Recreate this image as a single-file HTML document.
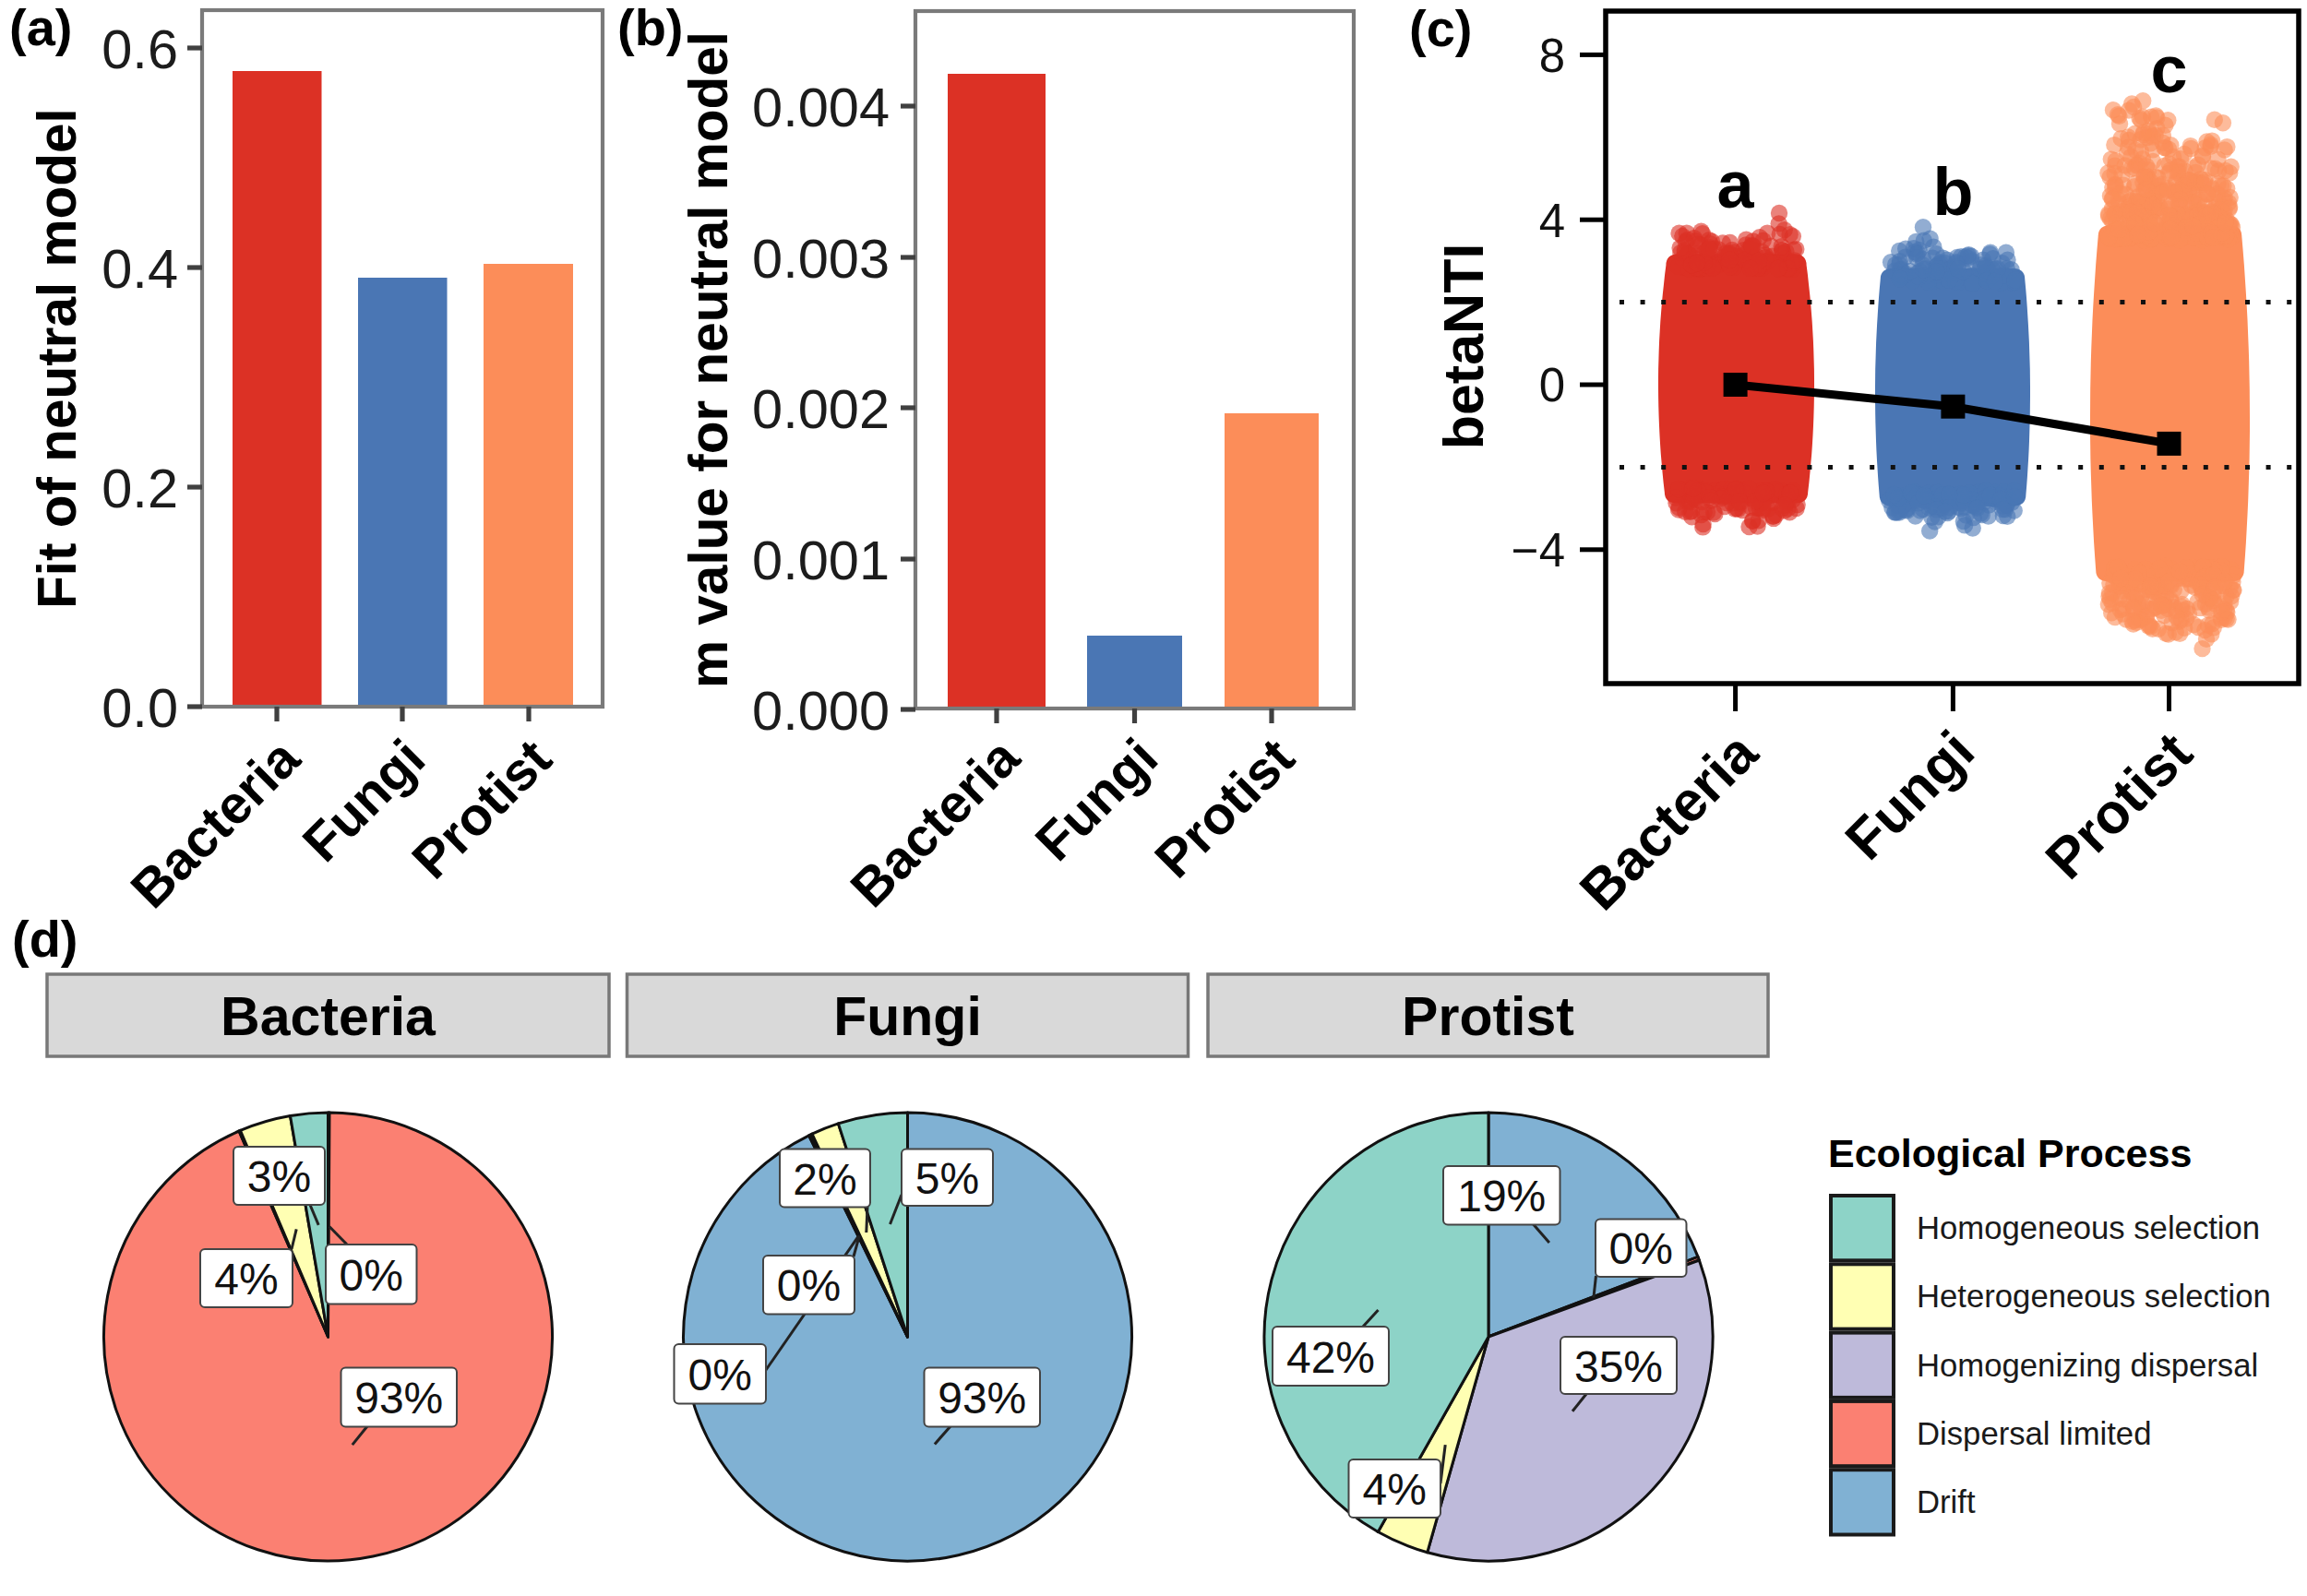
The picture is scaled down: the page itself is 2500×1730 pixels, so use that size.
<!DOCTYPE html>
<html lang="en"><head><meta charset="utf-8"><title>Figure</title>
<style>
html,body{margin:0;padding:0;background:#fff;}
body{width:2500px;height:1730px;overflow:hidden;}
svg{display:block;font-family:"Liberation Sans", Arial, Helvetica, sans-serif;}
.b{font-weight:bold;}
.tk{font-size:59.5px;fill:#1c1c1c;}
.tkc{font-size:51px;fill:#111;}
.lab{font-size:48px;fill:#111;}
.leg{font-size:34.7px;fill:#1a1a1a;}
</style></head><body>
<svg width="2500" height="1730" viewBox="0 0 2500 1730">
<rect width="2500" height="1730" fill="#fff"/>

<g>
<rect x="252" y="77" width="96.5" height="689" fill="#DC3125"/>
<rect x="388" y="301" width="96.5" height="465" fill="#4A76B4"/>
<rect x="524" y="286" width="97" height="480" fill="#FC8D59"/>
<rect x="219" y="11" width="434" height="755" fill="none" stroke="#7a7a7a" stroke-width="4.2"/>
<line x1="203" y1="52" x2="219" y2="52" stroke="#404040" stroke-width="5.2"/>
<text class="tk" x="193" y="73.5" text-anchor="end">0.6</text>
<line x1="203" y1="290" x2="219" y2="290" stroke="#404040" stroke-width="5.2"/>
<text class="tk" x="193" y="311.5" text-anchor="end">0.4</text>
<line x1="203" y1="528" x2="219" y2="528" stroke="#404040" stroke-width="5.2"/>
<text class="tk" x="193" y="549.5" text-anchor="end">0.2</text>
<line x1="203" y1="766" x2="219" y2="766" stroke="#404040" stroke-width="5.2"/>
<text class="tk" x="193" y="787.5" text-anchor="end">0.0</text>
<line x1="300" y1="766" x2="300" y2="782" stroke="#404040" stroke-width="5.2"/>
<text class="b" font-size="58" fill="#000" text-anchor="end" transform="translate(328,826) rotate(-45)">Bacteria</text>
<line x1="436" y1="766" x2="436" y2="782" stroke="#404040" stroke-width="5.2"/>
<text class="b" font-size="58" fill="#000" text-anchor="end" transform="translate(464,826) rotate(-45)">Fungi</text>
<line x1="573" y1="766" x2="573" y2="782" stroke="#404040" stroke-width="5.2"/>
<text class="b" font-size="58" fill="#000" text-anchor="end" transform="translate(601,826) rotate(-45)">Protist</text>
<text class="b" font-size="58.5" fill="#000" text-anchor="middle" transform="translate(82,388.5) rotate(-90)">Fit of neutral model</text>
<text class="b" font-size="56" fill="#000" x="10" y="49">(a)</text>
</g>
<g>
<rect x="1027" y="80" width="106" height="688" fill="#DC3125"/>
<rect x="1178" y="689" width="103" height="79" fill="#4A76B4"/>
<rect x="1327" y="448" width="102" height="320" fill="#FC8D59"/>
<rect x="992" y="12" width="475" height="756" fill="none" stroke="#7a7a7a" stroke-width="4.2"/>
<line x1="976" y1="115" x2="992" y2="115" stroke="#404040" stroke-width="5.2"/>
<text class="tk" x="964" y="136.5" text-anchor="end">0.004</text>
<line x1="976" y1="279" x2="992" y2="279" stroke="#404040" stroke-width="5.2"/>
<text class="tk" x="964" y="300.5" text-anchor="end">0.003</text>
<line x1="976" y1="442" x2="992" y2="442" stroke="#404040" stroke-width="5.2"/>
<text class="tk" x="964" y="463.5" text-anchor="end">0.002</text>
<line x1="976" y1="606" x2="992" y2="606" stroke="#404040" stroke-width="5.2"/>
<text class="tk" x="964" y="627.5" text-anchor="end">0.001</text>
<line x1="976" y1="769" x2="992" y2="769" stroke="#404040" stroke-width="5.2"/>
<text class="tk" x="964" y="790.5" text-anchor="end">0.000</text>
<line x1="1080" y1="768" x2="1080" y2="784" stroke="#404040" stroke-width="5.2"/>
<text class="b" font-size="58" fill="#000" text-anchor="end" transform="translate(1108,825) rotate(-45)">Bacteria</text>
<line x1="1229.5" y1="768" x2="1229.5" y2="784" stroke="#404040" stroke-width="5.2"/>
<text class="b" font-size="58" fill="#000" text-anchor="end" transform="translate(1258,825) rotate(-45)">Fungi</text>
<line x1="1378" y1="768" x2="1378" y2="784" stroke="#404040" stroke-width="5.2"/>
<text class="b" font-size="58" fill="#000" text-anchor="end" transform="translate(1406,825) rotate(-45)">Protist</text>
<text class="b" font-size="58.5" fill="#000" text-anchor="middle" transform="translate(788,390.0) rotate(-90)">m value for neutral model</text>
<text class="b" font-size="56" fill="#000" x="669" y="49">(b)</text>
</g>
<defs><clipPath id="cpc"><rect x="1740" y="12" width="751" height="729"/></clipPath></defs>
<g>
<rect x="1740" y="12" width="751" height="729" fill="#fff"/>
<g clip-path="url(#cpc)">
<g fill="#DC3125">
<path d="M1803.8,533.2 L1802.6,523.0 L1801.6,512.7 L1800.7,502.5 L1799.8,492.2 L1799.1,482.0 L1798.5,471.8 L1798.0,461.5 L1797.6,451.3 L1797.3,441.0 L1797.1,430.8 L1797.0,420.5 L1797.0,410.3 L1797.1,400.1 L1797.4,389.8 L1797.7,379.6 L1798.1,369.3 L1798.7,359.1 L1799.3,348.8 L1800.1,338.6 L1800.9,328.3 L1801.9,318.1 L1803.0,307.9 L1804.1,297.6 L1805.4,287.4 Q1805.4,275.2 1819.4,275.2 L1943.6,275.2 Q1957.6,275.2 1957.6,287.4 L1957.6,287.4 L1958.9,297.6 L1960.0,307.9 L1961.1,318.1 L1962.1,328.3 L1962.9,338.6 L1963.7,348.8 L1964.3,359.1 L1964.9,369.3 L1965.3,379.6 L1965.6,389.8 L1965.9,400.1 L1966.0,410.3 L1966.0,420.5 L1965.9,430.8 L1965.7,441.0 L1965.4,451.3 L1965.0,461.5 L1964.5,471.8 L1963.9,482.0 L1963.2,492.2 L1962.3,502.5 L1961.4,512.7 L1960.4,523.0 L1959.2,533.2 Q1959.2,545.4 1945.2,545.4 L1817.8,545.4 Q1803.8,545.4 1803.8,533.2 Z"/>
<g fill-opacity="0.6">
<circle cx="1877.0" cy="271.0" r="9.2"/>
<circle cx="1882.5" cy="278.2" r="9.2"/>
<circle cx="1883.1" cy="283.5" r="9.2"/>
<circle cx="1898.8" cy="288.9" r="9.2"/>
<circle cx="1855.6" cy="281.1" r="9.2"/>
<circle cx="1827.8" cy="277.7" r="9.2"/>
<circle cx="1823.3" cy="256.0" r="9.2"/>
<circle cx="1942.8" cy="256.3" r="9.2"/>
<circle cx="1896.8" cy="283.8" r="9.2"/>
<circle cx="1837.6" cy="261.3" r="9.2"/>
<circle cx="1822.8" cy="289.0" r="9.2"/>
<circle cx="1840.1" cy="291.5" r="9.2"/>
<circle cx="1876.7" cy="285.7" r="9.2"/>
<circle cx="1873.7" cy="275.2" r="9.2"/>
<circle cx="1899.6" cy="266.5" r="9.2"/>
<circle cx="1881.5" cy="277.4" r="9.2"/>
<circle cx="1852.8" cy="268.2" r="9.2"/>
<circle cx="1909.3" cy="290.5" r="9.2"/>
<circle cx="1856.9" cy="289.2" r="9.2"/>
<circle cx="1825.7" cy="271.3" r="9.2"/>
<circle cx="1915.2" cy="252.6" r="9.2"/>
<circle cx="1866.9" cy="263.4" r="9.2"/>
<circle cx="1942.7" cy="291.4" r="9.2"/>
<circle cx="1842.7" cy="291.2" r="9.2"/>
<circle cx="1868.0" cy="278.7" r="9.2"/>
<circle cx="1826.8" cy="262.0" r="9.2"/>
<circle cx="1852.1" cy="260.3" r="9.2"/>
<circle cx="1828.7" cy="259.8" r="9.2"/>
<circle cx="1830.4" cy="291.6" r="9.2"/>
<circle cx="1823.6" cy="280.3" r="9.2"/>
<circle cx="1920.5" cy="277.8" r="9.2"/>
<circle cx="1874.7" cy="263.0" r="9.2"/>
<circle cx="1840.2" cy="290.3" r="9.2"/>
<circle cx="1900.4" cy="278.7" r="9.2"/>
<circle cx="1831.3" cy="276.6" r="9.2"/>
<circle cx="1851.1" cy="283.6" r="9.2"/>
<circle cx="1943.9" cy="284.8" r="9.2"/>
<circle cx="1931.5" cy="271.7" r="9.2"/>
<circle cx="1844.9" cy="253.2" r="9.2"/>
<circle cx="1899.7" cy="261.5" r="9.2"/>
<circle cx="1829.3" cy="274.5" r="9.2"/>
<circle cx="1849.2" cy="290.7" r="9.2"/>
<circle cx="1917.5" cy="281.9" r="9.2"/>
<circle cx="1825.9" cy="273.4" r="9.2"/>
<circle cx="1827.9" cy="275.6" r="9.2"/>
<circle cx="1894.9" cy="282.6" r="9.2"/>
<circle cx="1879.4" cy="273.5" r="9.2"/>
<circle cx="1891.3" cy="281.2" r="9.2"/>
<circle cx="1836.0" cy="280.0" r="9.2"/>
<circle cx="1935.5" cy="284.0" r="9.2"/>
<circle cx="1841.0" cy="274.6" r="9.2"/>
<circle cx="1912.8" cy="276.4" r="9.2"/>
<circle cx="1941.2" cy="285.8" r="9.2"/>
<circle cx="1931.1" cy="271.0" r="9.2"/>
<circle cx="1829.7" cy="276.0" r="9.2"/>
<circle cx="1821.3" cy="273.9" r="9.2"/>
<circle cx="1908.7" cy="287.5" r="9.2"/>
<circle cx="1849.7" cy="276.8" r="9.2"/>
<circle cx="1855.0" cy="261.7" r="9.2"/>
<circle cx="1838.2" cy="290.1" r="9.2"/>
<circle cx="1845.6" cy="282.6" r="9.2"/>
<circle cx="1889.2" cy="271.1" r="9.2"/>
<circle cx="1853.2" cy="264.2" r="9.2"/>
<circle cx="1937.2" cy="290.5" r="9.2"/>
<circle cx="1850.8" cy="287.5" r="9.2"/>
<circle cx="1874.4" cy="277.4" r="9.2"/>
<circle cx="1864.1" cy="286.1" r="9.2"/>
<circle cx="1890.9" cy="275.8" r="9.2"/>
<circle cx="1932.5" cy="274.4" r="9.2"/>
<circle cx="1943.9" cy="270.7" r="9.2"/>
<circle cx="1892.3" cy="259.8" r="9.2"/>
<circle cx="1833.7" cy="287.2" r="9.2"/>
<circle cx="1936.3" cy="290.8" r="9.2"/>
<circle cx="1908.2" cy="286.8" r="9.2"/>
<circle cx="1899.7" cy="290.6" r="9.2"/>
<circle cx="1879.1" cy="289.2" r="9.2"/>
<circle cx="1946.3" cy="270.1" r="9.2"/>
<circle cx="1827.8" cy="252.6" r="9.2"/>
<circle cx="1934.2" cy="280.2" r="9.2"/>
<circle cx="1912.7" cy="279.1" r="9.2"/>
<circle cx="1933.7" cy="249.3" r="9.2"/>
<circle cx="1862.3" cy="270.5" r="9.2"/>
<circle cx="1927.7" cy="242.4" r="9.2"/>
<circle cx="1870.6" cy="279.3" r="9.2"/>
<circle cx="1897.6" cy="267.4" r="9.2"/>
<circle cx="1895.6" cy="269.5" r="9.2"/>
<circle cx="1928.0" cy="231.0" r="9.2"/>
<circle cx="1910.7" cy="260.7" r="9.2"/>
<circle cx="1891.9" cy="265.5" r="9.2"/>
<circle cx="1873.6" cy="286.3" r="9.2"/>
<circle cx="1914.6" cy="282.9" r="9.2"/>
<circle cx="1820.6" cy="268.8" r="9.2"/>
<circle cx="1846.3" cy="274.8" r="9.2"/>
<circle cx="1906.8" cy="257.3" r="9.2"/>
<circle cx="1937.7" cy="291.2" r="9.2"/>
<circle cx="1849.8" cy="270.7" r="9.2"/>
<circle cx="1905.3" cy="290.3" r="9.2"/>
<circle cx="1843.2" cy="265.5" r="9.2"/>
<circle cx="1873.9" cy="274.5" r="9.2"/>
<circle cx="1903.3" cy="277.8" r="9.2"/>
<circle cx="1843.5" cy="250.7" r="9.2"/>
<circle cx="1935.4" cy="272.8" r="9.2"/>
<circle cx="1930.6" cy="267.1" r="9.2"/>
<circle cx="1857.7" cy="269.9" r="9.2"/>
<circle cx="1928.1" cy="290.8" r="9.2"/>
<circle cx="1909.0" cy="272.7" r="9.2"/>
<circle cx="1837.6" cy="285.6" r="9.2"/>
<circle cx="1874.9" cy="289.1" r="9.2"/>
<circle cx="1870.3" cy="274.7" r="9.2"/>
<circle cx="1897.8" cy="270.1" r="9.2"/>
<circle cx="1926.8" cy="291.0" r="9.2"/>
<circle cx="1945.1" cy="282.4" r="9.2"/>
<circle cx="1819.1" cy="288.9" r="9.2"/>
<circle cx="1928.7" cy="253.9" r="9.2"/>
<circle cx="1890.8" cy="281.7" r="9.2"/>
<circle cx="1856.0" cy="290.6" r="9.2"/>
<circle cx="1833.1" cy="287.1" r="9.2"/>
<circle cx="1846.7" cy="284.6" r="9.2"/>
<circle cx="1835.7" cy="258.1" r="9.2"/>
<circle cx="1874.4" cy="281.6" r="9.2"/>
<circle cx="1898.3" cy="266.3" r="9.2"/>
<circle cx="1939.6" cy="254.3" r="9.2"/>
<circle cx="1905.9" cy="282.9" r="9.2"/>
<circle cx="1840.1" cy="264.8" r="9.2"/>
<circle cx="1819.6" cy="252.8" r="9.2"/>
<circle cx="1839.0" cy="285.0" r="9.2"/>
<circle cx="1852.0" cy="269.9" r="9.2"/>
<circle cx="1896.8" cy="290.9" r="9.2"/>
<circle cx="1919.2" cy="266.8" r="9.2"/>
<circle cx="1910.7" cy="551.5" r="9.2"/>
<circle cx="1833.2" cy="554.0" r="9.2"/>
<circle cx="1936.9" cy="536.3" r="9.2"/>
<circle cx="1921.0" cy="544.9" r="9.2"/>
<circle cx="1939.4" cy="555.3" r="9.2"/>
<circle cx="1841.5" cy="534.9" r="9.2"/>
<circle cx="1911.3" cy="539.9" r="9.2"/>
<circle cx="1910.0" cy="553.2" r="9.2"/>
<circle cx="1845.3" cy="571.4" r="9.2"/>
<circle cx="1886.5" cy="532.9" r="9.2"/>
<circle cx="1936.0" cy="544.7" r="9.2"/>
<circle cx="1929.9" cy="533.3" r="9.2"/>
<circle cx="1873.5" cy="535.1" r="9.2"/>
<circle cx="1888.4" cy="531.2" r="9.2"/>
<circle cx="1819.5" cy="550.3" r="9.2"/>
<circle cx="1921.4" cy="559.7" r="9.2"/>
<circle cx="1837.8" cy="541.9" r="9.2"/>
<circle cx="1859.0" cy="531.2" r="9.2"/>
<circle cx="1834.2" cy="538.8" r="9.2"/>
<circle cx="1883.7" cy="534.7" r="9.2"/>
<circle cx="1905.7" cy="564.2" r="9.2"/>
<circle cx="1825.0" cy="530.9" r="9.2"/>
<circle cx="1844.4" cy="544.1" r="9.2"/>
<circle cx="1912.7" cy="531.3" r="9.2"/>
<circle cx="1899.3" cy="564.5" r="9.2"/>
<circle cx="1889.6" cy="533.9" r="9.2"/>
<circle cx="1857.0" cy="555.4" r="9.2"/>
<circle cx="1933.9" cy="553.4" r="9.2"/>
<circle cx="1843.7" cy="558.0" r="9.2"/>
<circle cx="1891.4" cy="535.8" r="9.2"/>
<circle cx="1881.9" cy="550.9" r="9.2"/>
<circle cx="1883.7" cy="537.4" r="9.2"/>
<circle cx="1868.1" cy="536.4" r="9.2"/>
<circle cx="1880.3" cy="551.7" r="9.2"/>
<circle cx="1906.6" cy="550.1" r="9.2"/>
<circle cx="1869.9" cy="538.1" r="9.2"/>
<circle cx="1942.6" cy="541.9" r="9.2"/>
<circle cx="1877.9" cy="535.6" r="9.2"/>
<circle cx="1833.4" cy="560.3" r="9.2"/>
<circle cx="1935.0" cy="542.7" r="9.2"/>
<circle cx="1878.3" cy="533.8" r="9.2"/>
<circle cx="1897.3" cy="539.9" r="9.2"/>
<circle cx="1937.4" cy="551.2" r="9.2"/>
<circle cx="1819.0" cy="552.5" r="9.2"/>
<circle cx="1839.9" cy="532.8" r="9.2"/>
<circle cx="1858.4" cy="557.1" r="9.2"/>
<circle cx="1861.9" cy="535.2" r="9.2"/>
<circle cx="1912.8" cy="534.8" r="9.2"/>
<circle cx="1831.2" cy="543.0" r="9.2"/>
<circle cx="1840.1" cy="529.7" r="9.2"/>
<circle cx="1885.5" cy="545.6" r="9.2"/>
<circle cx="1869.8" cy="535.8" r="9.2"/>
<circle cx="1885.5" cy="535.6" r="9.2"/>
<circle cx="1899.1" cy="539.5" r="9.2"/>
<circle cx="1899.2" cy="564.8" r="9.2"/>
<circle cx="1896.6" cy="535.5" r="9.2"/>
<circle cx="1930.1" cy="532.1" r="9.2"/>
<circle cx="1921.6" cy="559.4" r="9.2"/>
<circle cx="1936.0" cy="535.3" r="9.2"/>
<circle cx="1937.8" cy="543.7" r="9.2"/>
<circle cx="1845.7" cy="568.0" r="9.2"/>
<circle cx="1831.4" cy="529.2" r="9.2"/>
<circle cx="1845.9" cy="530.9" r="9.2"/>
<circle cx="1827.7" cy="543.1" r="9.2"/>
<circle cx="1924.6" cy="558.0" r="9.2"/>
<circle cx="1831.7" cy="544.4" r="9.2"/>
<circle cx="1868.2" cy="530.2" r="9.2"/>
<circle cx="1840.8" cy="532.0" r="9.2"/>
<circle cx="1904.5" cy="570.6" r="9.2"/>
<circle cx="1831.3" cy="554.8" r="9.2"/>
<circle cx="1882.3" cy="529.9" r="9.2"/>
<circle cx="1905.9" cy="550.9" r="9.2"/>
<circle cx="1839.5" cy="536.8" r="9.2"/>
<circle cx="1818.5" cy="532.6" r="9.2"/>
<circle cx="1888.3" cy="553.0" r="9.2"/>
<circle cx="1833.3" cy="531.0" r="9.2"/>
<circle cx="1839.1" cy="539.0" r="9.2"/>
<circle cx="1939.4" cy="534.3" r="9.2"/>
<circle cx="1943.0" cy="532.5" r="9.2"/>
<circle cx="1876.3" cy="530.3" r="9.2"/>
<circle cx="1877.1" cy="545.4" r="9.2"/>
<circle cx="1883.5" cy="551.8" r="9.2"/>
<circle cx="1816.1" cy="539.6" r="9.2"/>
<circle cx="1908.7" cy="535.4" r="9.2"/>
<circle cx="1875.3" cy="538.6" r="9.2"/>
<circle cx="1913.7" cy="539.0" r="9.2"/>
<circle cx="1836.2" cy="535.7" r="9.2"/>
<circle cx="1922.6" cy="532.6" r="9.2"/>
<circle cx="1908.7" cy="545.7" r="9.2"/>
<circle cx="1868.9" cy="549.1" r="9.2"/>
<circle cx="1923.2" cy="530.2" r="9.2"/>
<circle cx="1850.0" cy="555.1" r="9.2"/>
<circle cx="1918.4" cy="545.2" r="9.2"/>
<circle cx="1922.0" cy="561.9" r="9.2"/>
<circle cx="1931.4" cy="551.1" r="9.2"/>
<circle cx="1908.0" cy="532.2" r="9.2"/>
<circle cx="1911.1" cy="544.3" r="9.2"/>
<circle cx="1877.3" cy="536.1" r="9.2"/>
<circle cx="1816.5" cy="545.3" r="9.2"/>
<circle cx="1897.8" cy="549.9" r="9.2"/>
<circle cx="1846.6" cy="554.9" r="9.2"/>
<circle cx="1859.7" cy="538.2" r="9.2"/>
<circle cx="1902.5" cy="549.7" r="9.2"/>
<circle cx="1866.6" cy="538.6" r="9.2"/>
<circle cx="1947.7" cy="547.0" r="9.2"/>
<circle cx="1915.9" cy="551.5" r="9.2"/>
<circle cx="1914.0" cy="532.5" r="9.2"/>
<circle cx="1848.4" cy="533.7" r="9.2"/>
<circle cx="1840.0" cy="532.3" r="9.2"/>
<circle cx="1864.8" cy="540.4" r="9.2"/>
<circle cx="1936.2" cy="537.0" r="9.2"/>
<circle cx="1890.8" cy="531.2" r="9.2"/>
<circle cx="1946.6" cy="550.9" r="9.2"/>
<circle cx="1826.2" cy="554.8" r="9.2"/>
<circle cx="1894.9" cy="529.1" r="9.2"/>
<circle cx="1939.8" cy="534.4" r="9.2"/>
<circle cx="1835.9" cy="540.0" r="9.2"/>
<circle cx="1880.9" cy="530.8" r="9.2"/>
<circle cx="1895.5" cy="571.0" r="9.2"/>
<circle cx="1871.0" cy="545.0" r="9.2"/>
<circle cx="1885.1" cy="543.4" r="9.2"/>
<circle cx="1852.7" cy="539.1" r="9.2"/>
<circle cx="1902.2" cy="543.0" r="9.2"/>
<circle cx="1910.9" cy="534.5" r="9.2"/>
<circle cx="1854.3" cy="542.8" r="9.2"/>
<circle cx="1819.0" cy="530.0" r="9.2"/>
<circle cx="1834.5" cy="529.3" r="9.2"/>
<circle cx="1934.1" cy="547.4" r="9.2"/>
</g></g>
<g fill="#4A76B4">
<path d="M2036.6,536.3 L2035.8,526.6 L2035.1,516.9 L2034.5,507.2 L2033.9,497.5 L2033.4,487.7 L2033.0,478.0 L2032.7,468.3 L2032.4,458.6 L2032.2,448.8 L2032.1,439.1 L2032.0,429.4 L2032.0,419.7 L2032.1,410.0 L2032.2,400.2 L2032.5,390.5 L2032.8,380.8 L2033.1,371.1 L2033.6,361.3 L2034.1,351.6 L2034.7,341.9 L2035.3,332.2 L2036.0,322.5 L2036.8,312.7 L2037.7,303.0 Q2037.7,290.8 2051.7,290.8 L2180.3,290.8 Q2194.3,290.8 2194.3,303.0 L2194.3,303.0 L2195.2,312.7 L2196.0,322.5 L2196.7,332.2 L2197.3,341.9 L2197.9,351.6 L2198.4,361.3 L2198.9,371.1 L2199.2,380.8 L2199.5,390.5 L2199.8,400.2 L2199.9,410.0 L2200.0,419.7 L2200.0,429.4 L2199.9,439.1 L2199.8,448.8 L2199.6,458.6 L2199.3,468.3 L2199.0,478.0 L2198.6,487.7 L2198.1,497.5 L2197.5,507.2 L2196.9,516.9 L2196.2,526.6 L2195.4,536.3 Q2195.4,548.5 2181.4,548.5 L2050.6,548.5 Q2036.6,548.5 2036.6,536.3 Z"/>
<g fill-opacity="0.6">
<circle cx="2175.5" cy="281.7" r="9.2"/>
<circle cx="2058.8" cy="283.1" r="9.2"/>
<circle cx="2113.0" cy="291.1" r="9.2"/>
<circle cx="2181.3" cy="306.2" r="9.2"/>
<circle cx="2173.9" cy="273.8" r="9.2"/>
<circle cx="2158.9" cy="292.3" r="9.2"/>
<circle cx="2129.8" cy="278.4" r="9.2"/>
<circle cx="2110.1" cy="281.8" r="9.2"/>
<circle cx="2076.7" cy="275.3" r="9.2"/>
<circle cx="2064.8" cy="296.6" r="9.2"/>
<circle cx="2108.3" cy="292.4" r="9.2"/>
<circle cx="2084.2" cy="280.9" r="9.2"/>
<circle cx="2120.1" cy="284.2" r="9.2"/>
<circle cx="2080.4" cy="294.3" r="9.2"/>
<circle cx="2065.2" cy="269.6" r="9.2"/>
<circle cx="2132.6" cy="277.2" r="9.2"/>
<circle cx="2096.7" cy="301.8" r="9.2"/>
<circle cx="2075.0" cy="273.1" r="9.2"/>
<circle cx="2084.0" cy="246.3" r="9.2"/>
<circle cx="2167.9" cy="299.7" r="9.2"/>
<circle cx="2054.0" cy="287.0" r="9.2"/>
<circle cx="2105.8" cy="299.3" r="9.2"/>
<circle cx="2132.5" cy="279.8" r="9.2"/>
<circle cx="2058.4" cy="286.7" r="9.2"/>
<circle cx="2060.0" cy="291.8" r="9.2"/>
<circle cx="2133.4" cy="276.1" r="9.2"/>
<circle cx="2098.9" cy="288.6" r="9.2"/>
<circle cx="2094.5" cy="304.9" r="9.2"/>
<circle cx="2149.6" cy="301.7" r="9.2"/>
<circle cx="2064.0" cy="298.2" r="9.2"/>
<circle cx="2156.9" cy="273.7" r="9.2"/>
<circle cx="2078.0" cy="274.2" r="9.2"/>
<circle cx="2105.6" cy="304.9" r="9.2"/>
<circle cx="2136.6" cy="283.0" r="9.2"/>
<circle cx="2122.7" cy="305.8" r="9.2"/>
<circle cx="2148.9" cy="281.8" r="9.2"/>
<circle cx="2098.2" cy="293.5" r="9.2"/>
<circle cx="2060.8" cy="299.6" r="9.2"/>
<circle cx="2058.9" cy="299.6" r="9.2"/>
<circle cx="2088.3" cy="303.5" r="9.2"/>
<circle cx="2153.3" cy="290.4" r="9.2"/>
<circle cx="2138.2" cy="298.7" r="9.2"/>
<circle cx="2059.2" cy="292.7" r="9.2"/>
<circle cx="2086.6" cy="291.2" r="9.2"/>
<circle cx="2146.4" cy="287.1" r="9.2"/>
<circle cx="2098.3" cy="275.2" r="9.2"/>
<circle cx="2125.2" cy="278.2" r="9.2"/>
<circle cx="2107.7" cy="284.9" r="9.2"/>
<circle cx="2157.5" cy="299.3" r="9.2"/>
<circle cx="2102.5" cy="284.7" r="9.2"/>
<circle cx="2174.8" cy="291.0" r="9.2"/>
<circle cx="2097.2" cy="294.6" r="9.2"/>
<circle cx="2097.8" cy="289.3" r="9.2"/>
<circle cx="2100.9" cy="286.4" r="9.2"/>
<circle cx="2076.3" cy="261.9" r="9.2"/>
<circle cx="2121.5" cy="288.2" r="9.2"/>
<circle cx="2161.6" cy="291.5" r="9.2"/>
<circle cx="2151.5" cy="300.8" r="9.2"/>
<circle cx="2168.6" cy="306.3" r="9.2"/>
<circle cx="2118.1" cy="301.7" r="9.2"/>
<circle cx="2136.1" cy="277.8" r="9.2"/>
<circle cx="2156.4" cy="275.4" r="9.2"/>
<circle cx="2155.1" cy="293.8" r="9.2"/>
<circle cx="2169.6" cy="285.2" r="9.2"/>
<circle cx="2059.3" cy="297.2" r="9.2"/>
<circle cx="2149.5" cy="296.0" r="9.2"/>
<circle cx="2136.6" cy="306.9" r="9.2"/>
<circle cx="2151.8" cy="287.9" r="9.2"/>
<circle cx="2119.0" cy="304.9" r="9.2"/>
<circle cx="2094.4" cy="279.8" r="9.2"/>
<circle cx="2179.5" cy="292.3" r="9.2"/>
<circle cx="2121.0" cy="278.9" r="9.2"/>
<circle cx="2145.9" cy="291.5" r="9.2"/>
<circle cx="2159.6" cy="280.3" r="9.2"/>
<circle cx="2119.2" cy="295.1" r="9.2"/>
<circle cx="2105.4" cy="279.8" r="9.2"/>
<circle cx="2099.0" cy="298.2" r="9.2"/>
<circle cx="2105.8" cy="291.2" r="9.2"/>
<circle cx="2087.6" cy="298.0" r="9.2"/>
<circle cx="2089.6" cy="305.7" r="9.2"/>
<circle cx="2064.7" cy="278.8" r="9.2"/>
<circle cx="2073.8" cy="269.1" r="9.2"/>
<circle cx="2058.2" cy="272.0" r="9.2"/>
<circle cx="2171.9" cy="298.1" r="9.2"/>
<circle cx="2053.0" cy="293.8" r="9.2"/>
<circle cx="2077.5" cy="296.3" r="9.2"/>
<circle cx="2079.8" cy="299.9" r="9.2"/>
<circle cx="2079.6" cy="271.0" r="9.2"/>
<circle cx="2072.6" cy="304.2" r="9.2"/>
<circle cx="2150.8" cy="290.8" r="9.2"/>
<circle cx="2091.6" cy="258.7" r="9.2"/>
<circle cx="2113.2" cy="292.2" r="9.2"/>
<circle cx="2084.8" cy="260.8" r="9.2"/>
<circle cx="2095.3" cy="267.6" r="9.2"/>
<circle cx="2077.8" cy="299.0" r="9.2"/>
<circle cx="2100.4" cy="291.3" r="9.2"/>
<circle cx="2119.7" cy="285.4" r="9.2"/>
<circle cx="2183.6" cy="305.3" r="9.2"/>
<circle cx="2137.8" cy="307.2" r="9.2"/>
<circle cx="2112.2" cy="303.4" r="9.2"/>
<circle cx="2098.5" cy="294.8" r="9.2"/>
<circle cx="2069.4" cy="294.0" r="9.2"/>
<circle cx="2083.6" cy="287.1" r="9.2"/>
<circle cx="2183.8" cy="303.5" r="9.2"/>
<circle cx="2084.3" cy="292.0" r="9.2"/>
<circle cx="2153.2" cy="304.1" r="9.2"/>
<circle cx="2049.1" cy="284.2" r="9.2"/>
<circle cx="2058.7" cy="302.0" r="9.2"/>
<circle cx="2127.8" cy="294.0" r="9.2"/>
<circle cx="2164.4" cy="291.3" r="9.2"/>
<circle cx="2077.1" cy="279.4" r="9.2"/>
<circle cx="2121.9" cy="291.5" r="9.2"/>
<circle cx="2161.8" cy="304.9" r="9.2"/>
<circle cx="2089.6" cy="534.7" r="9.2"/>
<circle cx="2089.1" cy="538.8" r="9.2"/>
<circle cx="2111.4" cy="535.7" r="9.2"/>
<circle cx="2141.4" cy="549.2" r="9.2"/>
<circle cx="2062.3" cy="548.3" r="9.2"/>
<circle cx="2180.0" cy="544.8" r="9.2"/>
<circle cx="2162.2" cy="533.6" r="9.2"/>
<circle cx="2098.8" cy="534.3" r="9.2"/>
<circle cx="2145.4" cy="533.8" r="9.2"/>
<circle cx="2110.4" cy="556.0" r="9.2"/>
<circle cx="2074.9" cy="533.6" r="9.2"/>
<circle cx="2132.2" cy="536.5" r="9.2"/>
<circle cx="2121.4" cy="549.5" r="9.2"/>
<circle cx="2088.2" cy="541.7" r="9.2"/>
<circle cx="2138.7" cy="547.9" r="9.2"/>
<circle cx="2082.4" cy="541.3" r="9.2"/>
<circle cx="2093.3" cy="560.8" r="9.2"/>
<circle cx="2175.3" cy="559.7" r="9.2"/>
<circle cx="2092.9" cy="543.5" r="9.2"/>
<circle cx="2161.2" cy="540.5" r="9.2"/>
<circle cx="2059.6" cy="537.5" r="9.2"/>
<circle cx="2140.8" cy="534.9" r="9.2"/>
<circle cx="2102.6" cy="543.3" r="9.2"/>
<circle cx="2162.7" cy="538.7" r="9.2"/>
<circle cx="2077.9" cy="536.4" r="9.2"/>
<circle cx="2069.1" cy="545.5" r="9.2"/>
<circle cx="2057.5" cy="545.4" r="9.2"/>
<circle cx="2172.9" cy="552.0" r="9.2"/>
<circle cx="2136.3" cy="541.8" r="9.2"/>
<circle cx="2152.9" cy="539.9" r="9.2"/>
<circle cx="2093.1" cy="548.6" r="9.2"/>
<circle cx="2104.1" cy="550.8" r="9.2"/>
<circle cx="2144.0" cy="533.7" r="9.2"/>
<circle cx="2182.8" cy="538.7" r="9.2"/>
<circle cx="2130.5" cy="558.6" r="9.2"/>
<circle cx="2049.4" cy="540.3" r="9.2"/>
<circle cx="2136.6" cy="546.9" r="9.2"/>
<circle cx="2062.4" cy="548.0" r="9.2"/>
<circle cx="2155.3" cy="547.5" r="9.2"/>
<circle cx="2161.0" cy="540.3" r="9.2"/>
<circle cx="2152.9" cy="539.0" r="9.2"/>
<circle cx="2170.8" cy="548.6" r="9.2"/>
<circle cx="2116.1" cy="537.1" r="9.2"/>
<circle cx="2066.9" cy="544.5" r="9.2"/>
<circle cx="2145.9" cy="538.2" r="9.2"/>
<circle cx="2177.2" cy="542.6" r="9.2"/>
<circle cx="2133.8" cy="534.4" r="9.2"/>
<circle cx="2080.6" cy="539.3" r="9.2"/>
<circle cx="2126.6" cy="537.4" r="9.2"/>
<circle cx="2174.5" cy="547.7" r="9.2"/>
<circle cx="2096.8" cy="541.3" r="9.2"/>
<circle cx="2182.2" cy="534.1" r="9.2"/>
<circle cx="2066.7" cy="551.2" r="9.2"/>
<circle cx="2124.3" cy="545.2" r="9.2"/>
<circle cx="2124.4" cy="535.6" r="9.2"/>
<circle cx="2160.0" cy="539.6" r="9.2"/>
<circle cx="2161.1" cy="537.6" r="9.2"/>
<circle cx="2086.9" cy="543.0" r="9.2"/>
<circle cx="2126.2" cy="540.3" r="9.2"/>
<circle cx="2161.6" cy="541.2" r="9.2"/>
<circle cx="2058.9" cy="553.6" r="9.2"/>
<circle cx="2053.2" cy="555.4" r="9.2"/>
<circle cx="2137.8" cy="541.8" r="9.2"/>
<circle cx="2147.8" cy="558.1" r="9.2"/>
<circle cx="2100.3" cy="560.3" r="9.2"/>
<circle cx="2050.4" cy="550.4" r="9.2"/>
<circle cx="2074.6" cy="542.1" r="9.2"/>
<circle cx="2100.1" cy="534.0" r="9.2"/>
<circle cx="2125.6" cy="542.4" r="9.2"/>
<circle cx="2084.1" cy="552.1" r="9.2"/>
<circle cx="2125.3" cy="545.1" r="9.2"/>
<circle cx="2053.9" cy="555.3" r="9.2"/>
<circle cx="2138.7" cy="561.1" r="9.2"/>
<circle cx="2129.1" cy="569.4" r="9.2"/>
<circle cx="2111.9" cy="554.2" r="9.2"/>
<circle cx="2141.9" cy="545.7" r="9.2"/>
<circle cx="2152.2" cy="532.1" r="9.2"/>
<circle cx="2182.7" cy="553.5" r="9.2"/>
<circle cx="2162.5" cy="543.7" r="9.2"/>
<circle cx="2107.0" cy="547.1" r="9.2"/>
<circle cx="2124.9" cy="550.9" r="9.2"/>
<circle cx="2119.4" cy="544.7" r="9.2"/>
<circle cx="2106.7" cy="545.5" r="9.2"/>
<circle cx="2054.5" cy="541.2" r="9.2"/>
<circle cx="2146.2" cy="556.5" r="9.2"/>
<circle cx="2129.2" cy="549.8" r="9.2"/>
<circle cx="2150.8" cy="540.4" r="9.2"/>
<circle cx="2058.2" cy="555.6" r="9.2"/>
<circle cx="2065.3" cy="552.8" r="9.2"/>
<circle cx="2101.7" cy="539.1" r="9.2"/>
<circle cx="2054.0" cy="539.7" r="9.2"/>
<circle cx="2080.8" cy="553.5" r="9.2"/>
<circle cx="2089.3" cy="542.8" r="9.2"/>
<circle cx="2056.3" cy="540.3" r="9.2"/>
<circle cx="2170.8" cy="559.1" r="9.2"/>
<circle cx="2166.9" cy="537.7" r="9.2"/>
<circle cx="2105.1" cy="536.4" r="9.2"/>
<circle cx="2149.8" cy="544.4" r="9.2"/>
<circle cx="2125.3" cy="538.9" r="9.2"/>
<circle cx="2156.7" cy="536.8" r="9.2"/>
<circle cx="2047.3" cy="542.7" r="9.2"/>
<circle cx="2080.4" cy="536.9" r="9.2"/>
<circle cx="2056.4" cy="547.7" r="9.2"/>
<circle cx="2170.7" cy="539.4" r="9.2"/>
<circle cx="2096.5" cy="549.2" r="9.2"/>
<circle cx="2127.9" cy="536.4" r="9.2"/>
<circle cx="2171.8" cy="533.2" r="9.2"/>
<circle cx="2091.2" cy="575.6" r="9.2"/>
<circle cx="2183.0" cy="532.3" r="9.2"/>
<circle cx="2112.2" cy="536.1" r="9.2"/>
<circle cx="2173.7" cy="547.0" r="9.2"/>
<circle cx="2170.5" cy="543.9" r="9.2"/>
<circle cx="2096.8" cy="565.6" r="9.2"/>
<circle cx="2112.3" cy="550.1" r="9.2"/>
<circle cx="2074.8" cy="540.1" r="9.2"/>
<circle cx="2168.5" cy="540.9" r="9.2"/>
<circle cx="2055.6" cy="555.6" r="9.2"/>
<circle cx="2090.6" cy="550.6" r="9.2"/>
<circle cx="2170.1" cy="552.1" r="9.2"/>
<circle cx="2066.8" cy="553.6" r="9.2"/>
<circle cx="2142.6" cy="550.7" r="9.2"/>
<circle cx="2057.7" cy="539.6" r="9.2"/>
<circle cx="2077.9" cy="542.3" r="9.2"/>
<circle cx="2075.6" cy="559.6" r="9.2"/>
<circle cx="2071.4" cy="534.4" r="9.2"/>
<circle cx="2154.7" cy="559.5" r="9.2"/>
<circle cx="2098.8" cy="552.4" r="9.2"/>
<circle cx="2127.8" cy="565.1" r="9.2"/>
<circle cx="2078.9" cy="545.4" r="9.2"/>
<circle cx="2137.7" cy="572.6" r="9.2"/>
<circle cx="2085.0" cy="537.1" r="9.2"/>
<circle cx="2183.0" cy="538.2" r="9.2"/>
<circle cx="2108.0" cy="554.6" r="9.2"/>
<circle cx="2052.6" cy="536.0" r="9.2"/>
</g></g>
<g fill="#FC8D59">
<path d="M2271.2,618.1 L2270.1,603.1 L2269.1,588.0 L2268.3,572.9 L2267.5,557.8 L2266.8,542.7 L2266.3,527.6 L2265.8,512.5 L2265.4,497.5 L2265.2,482.4 L2265.0,467.3 L2265.0,452.2 L2265.1,437.1 L2265.2,422.0 L2265.5,406.9 L2265.8,391.9 L2266.3,376.8 L2266.9,361.7 L2267.5,346.6 L2268.3,331.5 L2269.2,316.4 L2270.2,301.3 L2271.2,286.3 L2272.4,271.2 L2273.7,256.1 Q2273.7,243.9 2287.7,243.9 L2415.3,243.9 Q2429.3,243.9 2429.3,256.1 L2429.3,256.1 L2430.6,271.2 L2431.8,286.3 L2432.8,301.3 L2433.8,316.4 L2434.7,331.5 L2435.5,346.6 L2436.1,361.7 L2436.7,376.8 L2437.2,391.9 L2437.5,406.9 L2437.8,422.0 L2437.9,437.1 L2438.0,452.2 L2438.0,467.3 L2437.8,482.4 L2437.6,497.5 L2437.2,512.5 L2436.7,527.6 L2436.2,542.7 L2435.5,557.8 L2434.7,572.9 L2433.9,588.0 L2432.9,603.1 L2431.8,618.1 Q2431.8,630.4 2417.8,630.4 L2285.2,630.4 Q2271.2,630.4 2271.2,618.1 Z"/>
<g fill-opacity="0.6">
<circle cx="2365.1" cy="233.3" r="9.2"/>
<circle cx="2318.5" cy="127.9" r="9.2"/>
<circle cx="2295.5" cy="216.8" r="9.2"/>
<circle cx="2386.3" cy="229.9" r="9.2"/>
<circle cx="2321.9" cy="172.3" r="9.2"/>
<circle cx="2310.2" cy="112.5" r="9.2"/>
<circle cx="2418.3" cy="256.6" r="9.2"/>
<circle cx="2346.4" cy="160.1" r="9.2"/>
<circle cx="2336.3" cy="125.5" r="9.2"/>
<circle cx="2351.5" cy="238.1" r="9.2"/>
<circle cx="2359.1" cy="197.2" r="9.2"/>
<circle cx="2332.8" cy="162.4" r="9.2"/>
<circle cx="2389.6" cy="195.2" r="9.2"/>
<circle cx="2352.3" cy="157.2" r="9.2"/>
<circle cx="2376.4" cy="202.3" r="9.2"/>
<circle cx="2413.1" cy="238.8" r="9.2"/>
<circle cx="2389.6" cy="239.7" r="9.2"/>
<circle cx="2366.2" cy="237.7" r="9.2"/>
<circle cx="2343.6" cy="154.6" r="9.2"/>
<circle cx="2389.8" cy="160.3" r="9.2"/>
<circle cx="2316.1" cy="178.7" r="9.2"/>
<circle cx="2314.3" cy="162.8" r="9.2"/>
<circle cx="2351.4" cy="256.1" r="9.2"/>
<circle cx="2364.5" cy="192.4" r="9.2"/>
<circle cx="2361.2" cy="180.2" r="9.2"/>
<circle cx="2307.9" cy="235.6" r="9.2"/>
<circle cx="2286.6" cy="192.0" r="9.2"/>
<circle cx="2342.7" cy="199.7" r="9.2"/>
<circle cx="2320.1" cy="130.1" r="9.2"/>
<circle cx="2295.0" cy="124.2" r="9.2"/>
<circle cx="2360.8" cy="210.5" r="9.2"/>
<circle cx="2391.2" cy="230.3" r="9.2"/>
<circle cx="2303.6" cy="210.5" r="9.2"/>
<circle cx="2289.5" cy="215.4" r="9.2"/>
<circle cx="2367.9" cy="208.6" r="9.2"/>
<circle cx="2320.1" cy="164.5" r="9.2"/>
<circle cx="2297.0" cy="134.3" r="9.2"/>
<circle cx="2307.0" cy="218.9" r="9.2"/>
<circle cx="2306.2" cy="148.4" r="9.2"/>
<circle cx="2395.7" cy="158.7" r="9.2"/>
<circle cx="2292.3" cy="199.9" r="9.2"/>
<circle cx="2333.1" cy="228.5" r="9.2"/>
<circle cx="2416.0" cy="255.4" r="9.2"/>
<circle cx="2350.1" cy="161.8" r="9.2"/>
<circle cx="2417.9" cy="243.4" r="9.2"/>
<circle cx="2345.5" cy="160.1" r="9.2"/>
<circle cx="2288.9" cy="226.2" r="9.2"/>
<circle cx="2404.7" cy="241.7" r="9.2"/>
<circle cx="2337.0" cy="217.6" r="9.2"/>
<circle cx="2341.2" cy="249.9" r="9.2"/>
<circle cx="2290.0" cy="119.3" r="9.2"/>
<circle cx="2386.7" cy="168.6" r="9.2"/>
<circle cx="2314.9" cy="217.9" r="9.2"/>
<circle cx="2358.6" cy="236.3" r="9.2"/>
<circle cx="2346.4" cy="135.7" r="9.2"/>
<circle cx="2333.1" cy="210.5" r="9.2"/>
<circle cx="2416.2" cy="187.4" r="9.2"/>
<circle cx="2289.3" cy="202.9" r="9.2"/>
<circle cx="2372.0" cy="254.5" r="9.2"/>
<circle cx="2330.6" cy="155.3" r="9.2"/>
<circle cx="2400.4" cy="182.8" r="9.2"/>
<circle cx="2403.6" cy="199.1" r="9.2"/>
<circle cx="2337.3" cy="139.1" r="9.2"/>
<circle cx="2335.7" cy="146.6" r="9.2"/>
<circle cx="2313.1" cy="202.2" r="9.2"/>
<circle cx="2309.2" cy="170.0" r="9.2"/>
<circle cx="2305.8" cy="227.4" r="9.2"/>
<circle cx="2313.2" cy="182.0" r="9.2"/>
<circle cx="2325.7" cy="190.5" r="9.2"/>
<circle cx="2417.7" cy="180.8" r="9.2"/>
<circle cx="2400.9" cy="233.7" r="9.2"/>
<circle cx="2335.5" cy="250.0" r="9.2"/>
<circle cx="2377.5" cy="219.2" r="9.2"/>
<circle cx="2320.6" cy="257.5" r="9.2"/>
<circle cx="2308.4" cy="217.4" r="9.2"/>
<circle cx="2337.3" cy="127.5" r="9.2"/>
<circle cx="2380.8" cy="228.2" r="9.2"/>
<circle cx="2332.6" cy="237.7" r="9.2"/>
<circle cx="2410.7" cy="214.5" r="9.2"/>
<circle cx="2387.1" cy="169.8" r="9.2"/>
<circle cx="2407.3" cy="257.8" r="9.2"/>
<circle cx="2327.5" cy="201.1" r="9.2"/>
<circle cx="2296.4" cy="125.8" r="9.2"/>
<circle cx="2328.3" cy="141.8" r="9.2"/>
<circle cx="2354.1" cy="254.2" r="9.2"/>
<circle cx="2337.1" cy="226.2" r="9.2"/>
<circle cx="2288.9" cy="238.9" r="9.2"/>
<circle cx="2364.6" cy="257.5" r="9.2"/>
<circle cx="2326.2" cy="194.4" r="9.2"/>
<circle cx="2357.5" cy="246.4" r="9.2"/>
<circle cx="2379.6" cy="229.8" r="9.2"/>
<circle cx="2381.8" cy="178.6" r="9.2"/>
<circle cx="2303.5" cy="227.5" r="9.2"/>
<circle cx="2322.3" cy="146.0" r="9.2"/>
<circle cx="2338.7" cy="205.6" r="9.2"/>
<circle cx="2401.3" cy="230.8" r="9.2"/>
<circle cx="2323.4" cy="205.7" r="9.2"/>
<circle cx="2312.6" cy="253.7" r="9.2"/>
<circle cx="2287.8" cy="172.6" r="9.2"/>
<circle cx="2360.4" cy="184.9" r="9.2"/>
<circle cx="2416.1" cy="224.5" r="9.2"/>
<circle cx="2374.3" cy="161.0" r="9.2"/>
<circle cx="2313.8" cy="144.7" r="9.2"/>
<circle cx="2373.7" cy="158.1" r="9.2"/>
<circle cx="2401.6" cy="229.6" r="9.2"/>
<circle cx="2369.6" cy="251.5" r="9.2"/>
<circle cx="2341.7" cy="206.0" r="9.2"/>
<circle cx="2292.1" cy="204.0" r="9.2"/>
<circle cx="2328.4" cy="184.1" r="9.2"/>
<circle cx="2321.5" cy="235.0" r="9.2"/>
<circle cx="2338.4" cy="192.7" r="9.2"/>
<circle cx="2307.1" cy="152.0" r="9.2"/>
<circle cx="2316.0" cy="245.0" r="9.2"/>
<circle cx="2330.2" cy="196.5" r="9.2"/>
<circle cx="2304.8" cy="166.4" r="9.2"/>
<circle cx="2378.6" cy="196.1" r="9.2"/>
<circle cx="2378.9" cy="257.9" r="9.2"/>
<circle cx="2336.8" cy="208.0" r="9.2"/>
<circle cx="2292.5" cy="200.6" r="9.2"/>
<circle cx="2291.6" cy="188.0" r="9.2"/>
<circle cx="2363.1" cy="216.5" r="9.2"/>
<circle cx="2327.8" cy="221.5" r="9.2"/>
<circle cx="2287.0" cy="212.2" r="9.2"/>
<circle cx="2404.2" cy="185.2" r="9.2"/>
<circle cx="2319.8" cy="151.3" r="9.2"/>
<circle cx="2309.3" cy="183.1" r="9.2"/>
<circle cx="2366.9" cy="167.0" r="9.2"/>
<circle cx="2333.1" cy="174.9" r="9.2"/>
<circle cx="2410.6" cy="162.5" r="9.2"/>
<circle cx="2368.7" cy="198.7" r="9.2"/>
<circle cx="2339.5" cy="201.8" r="9.2"/>
<circle cx="2321.9" cy="126.7" r="9.2"/>
<circle cx="2402.9" cy="209.9" r="9.2"/>
<circle cx="2407.6" cy="255.5" r="9.2"/>
<circle cx="2302.6" cy="179.4" r="9.2"/>
<circle cx="2325.6" cy="204.1" r="9.2"/>
<circle cx="2416.6" cy="242.5" r="9.2"/>
<circle cx="2309.7" cy="222.7" r="9.2"/>
<circle cx="2376.0" cy="234.5" r="9.2"/>
<circle cx="2284.4" cy="187.5" r="9.2"/>
<circle cx="2337.1" cy="226.1" r="9.2"/>
<circle cx="2350.6" cy="177.4" r="9.2"/>
<circle cx="2358.0" cy="196.8" r="9.2"/>
<circle cx="2359.7" cy="180.7" r="9.2"/>
<circle cx="2415.1" cy="219.8" r="9.2"/>
<circle cx="2331.2" cy="126.7" r="9.2"/>
<circle cx="2326.7" cy="148.9" r="9.2"/>
<circle cx="2377.7" cy="181.6" r="9.2"/>
<circle cx="2413.4" cy="159.1" r="9.2"/>
<circle cx="2306.1" cy="159.6" r="9.2"/>
<circle cx="2350.2" cy="187.6" r="9.2"/>
<circle cx="2333.8" cy="218.4" r="9.2"/>
<circle cx="2385.0" cy="194.1" r="9.2"/>
<circle cx="2315.8" cy="218.9" r="9.2"/>
<circle cx="2327.7" cy="233.1" r="9.2"/>
<circle cx="2353.4" cy="245.6" r="9.2"/>
<circle cx="2291.8" cy="250.4" r="9.2"/>
<circle cx="2298.6" cy="150.1" r="9.2"/>
<circle cx="2299.4" cy="189.3" r="9.2"/>
<circle cx="2388.2" cy="200.1" r="9.2"/>
<circle cx="2307.0" cy="119.6" r="9.2"/>
<circle cx="2402.1" cy="253.5" r="9.2"/>
<circle cx="2318.5" cy="177.0" r="9.2"/>
<circle cx="2391.6" cy="210.6" r="9.2"/>
<circle cx="2380.9" cy="230.2" r="9.2"/>
<circle cx="2380.8" cy="221.2" r="9.2"/>
<circle cx="2329.4" cy="144.5" r="9.2"/>
<circle cx="2397.1" cy="152.6" r="9.2"/>
<circle cx="2360.7" cy="221.5" r="9.2"/>
<circle cx="2379.3" cy="187.0" r="9.2"/>
<circle cx="2395.6" cy="156.8" r="9.2"/>
<circle cx="2300.9" cy="200.6" r="9.2"/>
<circle cx="2374.6" cy="235.6" r="9.2"/>
<circle cx="2308.3" cy="258.3" r="9.2"/>
<circle cx="2363.0" cy="172.3" r="9.2"/>
<circle cx="2415.7" cy="244.3" r="9.2"/>
<circle cx="2376.9" cy="213.2" r="9.2"/>
<circle cx="2369.3" cy="220.8" r="9.2"/>
<circle cx="2408.9" cy="133.2" r="9.2"/>
<circle cx="2291.3" cy="157.1" r="9.2"/>
<circle cx="2299.2" cy="253.8" r="9.2"/>
<circle cx="2323.1" cy="143.6" r="9.2"/>
<circle cx="2419.0" cy="246.4" r="9.2"/>
<circle cx="2328.2" cy="256.5" r="9.2"/>
<circle cx="2357.3" cy="210.0" r="9.2"/>
<circle cx="2334.3" cy="215.1" r="9.2"/>
<circle cx="2391.5" cy="153.5" r="9.2"/>
<circle cx="2322.3" cy="197.8" r="9.2"/>
<circle cx="2367.3" cy="185.3" r="9.2"/>
<circle cx="2416.7" cy="213.9" r="9.2"/>
<circle cx="2377.7" cy="198.0" r="9.2"/>
<circle cx="2392.5" cy="241.8" r="9.2"/>
<circle cx="2307.1" cy="243.0" r="9.2"/>
<circle cx="2410.5" cy="228.2" r="9.2"/>
<circle cx="2349.9" cy="244.9" r="9.2"/>
<circle cx="2327.3" cy="257.6" r="9.2"/>
<circle cx="2360.5" cy="247.1" r="9.2"/>
<circle cx="2368.6" cy="233.3" r="9.2"/>
<circle cx="2314.9" cy="179.3" r="9.2"/>
<circle cx="2333.3" cy="222.1" r="9.2"/>
<circle cx="2290.1" cy="251.2" r="9.2"/>
<circle cx="2404.8" cy="219.3" r="9.2"/>
<circle cx="2294.1" cy="232.9" r="9.2"/>
<circle cx="2349.3" cy="130.3" r="9.2"/>
<circle cx="2312.2" cy="116.0" r="9.2"/>
<circle cx="2349.4" cy="206.5" r="9.2"/>
<circle cx="2393.0" cy="209.9" r="9.2"/>
<circle cx="2292.1" cy="179.6" r="9.2"/>
<circle cx="2372.6" cy="195.3" r="9.2"/>
<circle cx="2322.2" cy="109.2" r="9.2"/>
<circle cx="2399.8" cy="129.7" r="9.2"/>
<circle cx="2343.9" cy="146.7" r="9.2"/>
<circle cx="2382.2" cy="238.9" r="9.2"/>
<circle cx="2287.0" cy="236.9" r="9.2"/>
<circle cx="2299.4" cy="248.7" r="9.2"/>
<circle cx="2332.7" cy="148.2" r="9.2"/>
<circle cx="2326.0" cy="180.1" r="9.2"/>
<circle cx="2284.9" cy="231.9" r="9.2"/>
<circle cx="2414.5" cy="259.2" r="9.2"/>
<circle cx="2355.1" cy="169.9" r="9.2"/>
<circle cx="2393.0" cy="617.8" r="9.2"/>
<circle cx="2393.1" cy="658.6" r="9.2"/>
<circle cx="2397.6" cy="628.2" r="9.2"/>
<circle cx="2412.7" cy="670.8" r="9.2"/>
<circle cx="2317.1" cy="653.9" r="9.2"/>
<circle cx="2407.1" cy="671.7" r="9.2"/>
<circle cx="2313.0" cy="622.3" r="9.2"/>
<circle cx="2336.2" cy="658.2" r="9.2"/>
<circle cx="2394.1" cy="661.5" r="9.2"/>
<circle cx="2332.7" cy="640.7" r="9.2"/>
<circle cx="2320.9" cy="645.5" r="9.2"/>
<circle cx="2408.8" cy="622.3" r="9.2"/>
<circle cx="2328.3" cy="631.6" r="9.2"/>
<circle cx="2385.4" cy="631.4" r="9.2"/>
<circle cx="2357.7" cy="685.2" r="9.2"/>
<circle cx="2377.0" cy="623.0" r="9.2"/>
<circle cx="2301.5" cy="632.7" r="9.2"/>
<circle cx="2330.3" cy="619.3" r="9.2"/>
<circle cx="2351.9" cy="616.3" r="9.2"/>
<circle cx="2338.0" cy="637.8" r="9.2"/>
<circle cx="2413.3" cy="663.7" r="9.2"/>
<circle cx="2310.4" cy="642.4" r="9.2"/>
<circle cx="2386.9" cy="640.5" r="9.2"/>
<circle cx="2297.8" cy="660.9" r="9.2"/>
<circle cx="2417.1" cy="617.4" r="9.2"/>
<circle cx="2313.4" cy="672.3" r="9.2"/>
<circle cx="2307.0" cy="651.8" r="9.2"/>
<circle cx="2320.5" cy="661.6" r="9.2"/>
<circle cx="2370.0" cy="660.0" r="9.2"/>
<circle cx="2312.0" cy="658.2" r="9.2"/>
<circle cx="2367.2" cy="680.7" r="9.2"/>
<circle cx="2369.0" cy="670.8" r="9.2"/>
<circle cx="2352.2" cy="633.7" r="9.2"/>
<circle cx="2399.2" cy="622.8" r="9.2"/>
<circle cx="2377.2" cy="677.0" r="9.2"/>
<circle cx="2340.2" cy="632.8" r="9.2"/>
<circle cx="2335.2" cy="621.3" r="9.2"/>
<circle cx="2361.4" cy="673.8" r="9.2"/>
<circle cx="2353.6" cy="675.2" r="9.2"/>
<circle cx="2344.0" cy="626.3" r="9.2"/>
<circle cx="2304.2" cy="671.6" r="9.2"/>
<circle cx="2347.3" cy="686.8" r="9.2"/>
<circle cx="2325.0" cy="617.0" r="9.2"/>
<circle cx="2384.0" cy="658.9" r="9.2"/>
<circle cx="2403.7" cy="616.7" r="9.2"/>
<circle cx="2300.5" cy="665.5" r="9.2"/>
<circle cx="2313.8" cy="616.9" r="9.2"/>
<circle cx="2397.5" cy="676.0" r="9.2"/>
<circle cx="2290.1" cy="624.0" r="9.2"/>
<circle cx="2403.8" cy="621.8" r="9.2"/>
<circle cx="2394.1" cy="646.7" r="9.2"/>
<circle cx="2308.9" cy="633.9" r="9.2"/>
<circle cx="2320.4" cy="624.5" r="9.2"/>
<circle cx="2359.2" cy="627.4" r="9.2"/>
<circle cx="2391.3" cy="646.9" r="9.2"/>
<circle cx="2394.1" cy="615.6" r="9.2"/>
<circle cx="2401.7" cy="621.0" r="9.2"/>
<circle cx="2406.7" cy="669.6" r="9.2"/>
<circle cx="2392.9" cy="638.4" r="9.2"/>
<circle cx="2296.2" cy="648.5" r="9.2"/>
<circle cx="2288.2" cy="664.3" r="9.2"/>
<circle cx="2396.3" cy="687.4" r="9.2"/>
<circle cx="2297.9" cy="632.1" r="9.2"/>
<circle cx="2399.6" cy="654.0" r="9.2"/>
<circle cx="2368.0" cy="627.8" r="9.2"/>
<circle cx="2420.4" cy="623.7" r="9.2"/>
<circle cx="2311.8" cy="676.6" r="9.2"/>
<circle cx="2382.2" cy="680.0" r="9.2"/>
<circle cx="2309.2" cy="637.0" r="9.2"/>
<circle cx="2284.8" cy="655.0" r="9.2"/>
<circle cx="2329.1" cy="638.8" r="9.2"/>
<circle cx="2321.4" cy="671.5" r="9.2"/>
<circle cx="2366.1" cy="623.3" r="9.2"/>
<circle cx="2299.7" cy="640.2" r="9.2"/>
<circle cx="2378.6" cy="636.7" r="9.2"/>
<circle cx="2297.1" cy="618.6" r="9.2"/>
<circle cx="2412.7" cy="646.1" r="9.2"/>
<circle cx="2309.2" cy="640.5" r="9.2"/>
<circle cx="2420.5" cy="639.8" r="9.2"/>
<circle cx="2332.7" cy="681.8" r="9.2"/>
<circle cx="2325.0" cy="634.8" r="9.2"/>
<circle cx="2370.0" cy="627.4" r="9.2"/>
<circle cx="2341.0" cy="633.2" r="9.2"/>
<circle cx="2345.6" cy="655.1" r="9.2"/>
<circle cx="2352.4" cy="652.2" r="9.2"/>
<circle cx="2380.1" cy="628.5" r="9.2"/>
<circle cx="2314.8" cy="645.8" r="9.2"/>
<circle cx="2403.8" cy="631.2" r="9.2"/>
<circle cx="2322.1" cy="654.7" r="9.2"/>
<circle cx="2345.4" cy="666.9" r="9.2"/>
<circle cx="2410.5" cy="669.8" r="9.2"/>
<circle cx="2365.4" cy="661.5" r="9.2"/>
<circle cx="2344.4" cy="656.5" r="9.2"/>
<circle cx="2320.8" cy="632.0" r="9.2"/>
<circle cx="2343.3" cy="649.4" r="9.2"/>
<circle cx="2379.0" cy="624.2" r="9.2"/>
<circle cx="2376.0" cy="615.2" r="9.2"/>
<circle cx="2301.1" cy="659.7" r="9.2"/>
<circle cx="2407.7" cy="614.2" r="9.2"/>
<circle cx="2329.8" cy="660.4" r="9.2"/>
<circle cx="2395.8" cy="648.9" r="9.2"/>
<circle cx="2357.8" cy="662.0" r="9.2"/>
<circle cx="2295.2" cy="629.0" r="9.2"/>
<circle cx="2332.3" cy="625.3" r="9.2"/>
<circle cx="2333.8" cy="624.9" r="9.2"/>
<circle cx="2330.4" cy="679.2" r="9.2"/>
<circle cx="2407.7" cy="622.9" r="9.2"/>
<circle cx="2370.4" cy="616.7" r="9.2"/>
<circle cx="2347.2" cy="646.0" r="9.2"/>
<circle cx="2326.1" cy="651.8" r="9.2"/>
<circle cx="2372.0" cy="665.1" r="9.2"/>
<circle cx="2379.7" cy="630.3" r="9.2"/>
<circle cx="2346.1" cy="613.9" r="9.2"/>
<circle cx="2337.6" cy="631.1" r="9.2"/>
<circle cx="2419.8" cy="639.7" r="9.2"/>
<circle cx="2310.7" cy="630.7" r="9.2"/>
<circle cx="2336.7" cy="631.8" r="9.2"/>
<circle cx="2385.3" cy="637.1" r="9.2"/>
<circle cx="2372.5" cy="627.2" r="9.2"/>
<circle cx="2369.0" cy="615.4" r="9.2"/>
<circle cx="2394.6" cy="647.8" r="9.2"/>
<circle cx="2384.3" cy="617.4" r="9.2"/>
<circle cx="2347.1" cy="635.9" r="9.2"/>
<circle cx="2285.5" cy="646.5" r="9.2"/>
<circle cx="2356.1" cy="658.3" r="9.2"/>
<circle cx="2296.6" cy="622.9" r="9.2"/>
<circle cx="2352.5" cy="650.4" r="9.2"/>
<circle cx="2299.0" cy="635.1" r="9.2"/>
<circle cx="2293.4" cy="623.4" r="9.2"/>
<circle cx="2353.2" cy="634.8" r="9.2"/>
<circle cx="2339.5" cy="643.2" r="9.2"/>
<circle cx="2344.7" cy="624.2" r="9.2"/>
<circle cx="2296.2" cy="635.7" r="9.2"/>
<circle cx="2398.7" cy="680.4" r="9.2"/>
<circle cx="2338.9" cy="681.7" r="9.2"/>
<circle cx="2414.5" cy="671.5" r="9.2"/>
<circle cx="2339.4" cy="639.5" r="9.2"/>
<circle cx="2396.7" cy="615.4" r="9.2"/>
<circle cx="2384.7" cy="619.8" r="9.2"/>
<circle cx="2355.8" cy="639.0" r="9.2"/>
<circle cx="2285.9" cy="642.8" r="9.2"/>
<circle cx="2416.6" cy="637.8" r="9.2"/>
<circle cx="2371.7" cy="621.6" r="9.2"/>
<circle cx="2339.7" cy="624.9" r="9.2"/>
<circle cx="2291.6" cy="615.2" r="9.2"/>
<circle cx="2410.1" cy="635.4" r="9.2"/>
<circle cx="2328.4" cy="678.7" r="9.2"/>
<circle cx="2406.3" cy="618.2" r="9.2"/>
<circle cx="2412.6" cy="661.7" r="9.2"/>
<circle cx="2408.0" cy="635.5" r="9.2"/>
<circle cx="2336.7" cy="636.0" r="9.2"/>
<circle cx="2333.4" cy="659.6" r="9.2"/>
<circle cx="2331.7" cy="635.6" r="9.2"/>
<circle cx="2341.7" cy="627.3" r="9.2"/>
<circle cx="2399.1" cy="618.0" r="9.2"/>
<circle cx="2291.9" cy="669.1" r="9.2"/>
<circle cx="2337.3" cy="623.5" r="9.2"/>
<circle cx="2313.1" cy="648.7" r="9.2"/>
<circle cx="2325.6" cy="638.8" r="9.2"/>
<circle cx="2349.2" cy="622.9" r="9.2"/>
<circle cx="2349.8" cy="687.5" r="9.2"/>
<circle cx="2364.4" cy="655.0" r="9.2"/>
<circle cx="2365.3" cy="624.1" r="9.2"/>
<circle cx="2333.1" cy="633.0" r="9.2"/>
<circle cx="2363.6" cy="671.8" r="9.2"/>
<circle cx="2326.3" cy="667.5" r="9.2"/>
<circle cx="2387.6" cy="614.5" r="9.2"/>
<circle cx="2289.3" cy="642.1" r="9.2"/>
<circle cx="2319.3" cy="632.4" r="9.2"/>
<circle cx="2391.0" cy="692.8" r="9.2"/>
<circle cx="2338.0" cy="653.7" r="9.2"/>
<circle cx="2321.2" cy="621.7" r="9.2"/>
<circle cx="2419.5" cy="630.8" r="9.2"/>
<circle cx="2398.0" cy="632.1" r="9.2"/>
<circle cx="2395.7" cy="648.1" r="9.2"/>
<circle cx="2392.2" cy="623.2" r="9.2"/>
<circle cx="2388.7" cy="625.6" r="9.2"/>
<circle cx="2289.2" cy="653.8" r="9.2"/>
<circle cx="2410.4" cy="653.7" r="9.2"/>
<circle cx="2387.0" cy="628.3" r="9.2"/>
<circle cx="2362.2" cy="686.7" r="9.2"/>
<circle cx="2339.9" cy="616.2" r="9.2"/>
<circle cx="2291.5" cy="623.9" r="9.2"/>
<circle cx="2389.4" cy="683.1" r="9.2"/>
<circle cx="2334.5" cy="640.9" r="9.2"/>
<circle cx="2344.2" cy="634.3" r="9.2"/>
<circle cx="2326.1" cy="622.3" r="9.2"/>
<circle cx="2384.4" cy="633.7" r="9.2"/>
<circle cx="2398.7" cy="623.3" r="9.2"/>
<circle cx="2374.8" cy="634.6" r="9.2"/>
<circle cx="2297.5" cy="620.2" r="9.2"/>
<circle cx="2325.6" cy="668.6" r="9.2"/>
<circle cx="2410.8" cy="630.1" r="9.2"/>
<circle cx="2311.9" cy="661.4" r="9.2"/>
<circle cx="2398.7" cy="641.9" r="9.2"/>
<circle cx="2299.4" cy="649.1" r="9.2"/>
<circle cx="2286.7" cy="649.7" r="9.2"/>
<circle cx="2342.2" cy="661.8" r="9.2"/>
<circle cx="2410.2" cy="660.3" r="9.2"/>
<circle cx="2350.6" cy="630.1" r="9.2"/>
<circle cx="2389.9" cy="654.8" r="9.2"/>
<circle cx="2295.4" cy="615.0" r="9.2"/>
<circle cx="2363.5" cy="640.6" r="9.2"/>
<circle cx="2309.6" cy="628.9" r="9.2"/>
<circle cx="2330.5" cy="635.7" r="9.2"/>
<circle cx="2364.1" cy="657.7" r="9.2"/>
<circle cx="2362.0" cy="619.2" r="9.2"/>
<circle cx="2398.8" cy="650.9" r="9.2"/>
<circle cx="2348.8" cy="659.7" r="9.2"/>
<circle cx="2418.1" cy="646.2" r="9.2"/>
<circle cx="2315.4" cy="674.7" r="9.2"/>
<circle cx="2317.7" cy="620.9" r="9.2"/>
<circle cx="2318.5" cy="671.7" r="9.2"/>
<circle cx="2290.4" cy="633.4" r="9.2"/>
<circle cx="2381.4" cy="652.5" r="9.2"/>
<circle cx="2342.2" cy="656.0" r="9.2"/>
<circle cx="2417.1" cy="652.2" r="9.2"/>
<circle cx="2407.5" cy="663.3" r="9.2"/>
<circle cx="2313.7" cy="627.8" r="9.2"/>
<circle cx="2386.7" cy="644.3" r="9.2"/>
<circle cx="2400.0" cy="636.6" r="9.2"/>
<circle cx="2286.3" cy="632.1" r="9.2"/>
<circle cx="2358.5" cy="668.6" r="9.2"/>
<circle cx="2328.9" cy="677.3" r="9.2"/>
<circle cx="2386.5" cy="703.1" r="9.2"/>
<circle cx="2392.8" cy="677.7" r="9.2"/>
<circle cx="2312.9" cy="658.8" r="9.2"/>
<circle cx="2310.7" cy="673.5" r="9.2"/>
<circle cx="2298.1" cy="627.0" r="9.2"/>
<circle cx="2385.5" cy="198.1" r="9.2"/>
<circle cx="2407.5" cy="225.0" r="9.2"/>
<circle cx="2376.0" cy="206.5" r="9.2"/>
<circle cx="2379.5" cy="198.4" r="9.2"/>
<circle cx="2323.8" cy="226.7" r="9.2"/>
<circle cx="2320.6" cy="218.4" r="9.2"/>
<circle cx="2318.6" cy="219.3" r="9.2"/>
<circle cx="2317.9" cy="255.2" r="9.2"/>
<circle cx="2323.1" cy="260.2" r="9.2"/>
<circle cx="2349.5" cy="242.7" r="9.2"/>
<circle cx="2320.5" cy="254.6" r="9.2"/>
<circle cx="2352.7" cy="234.2" r="9.2"/>
<circle cx="2400.9" cy="225.0" r="9.2"/>
<circle cx="2397.3" cy="204.4" r="9.2"/>
<circle cx="2365.7" cy="208.0" r="9.2"/>
<circle cx="2356.2" cy="245.7" r="9.2"/>
<circle cx="2372.3" cy="209.9" r="9.2"/>
<circle cx="2319.5" cy="232.4" r="9.2"/>
<circle cx="2292.2" cy="231.2" r="9.2"/>
<circle cx="2390.4" cy="248.2" r="9.2"/>
<circle cx="2316.1" cy="229.7" r="9.2"/>
<circle cx="2382.6" cy="251.1" r="9.2"/>
<circle cx="2409.6" cy="217.3" r="9.2"/>
<circle cx="2330.8" cy="259.0" r="9.2"/>
<circle cx="2315.4" cy="245.1" r="9.2"/>
<circle cx="2411.6" cy="255.5" r="9.2"/>
<circle cx="2371.6" cy="195.6" r="9.2"/>
<circle cx="2298.7" cy="229.1" r="9.2"/>
<circle cx="2359.8" cy="187.2" r="9.2"/>
<circle cx="2327.2" cy="191.9" r="9.2"/>
<circle cx="2400.1" cy="214.5" r="9.2"/>
<circle cx="2293.4" cy="241.8" r="9.2"/>
<circle cx="2292.8" cy="174.3" r="9.2"/>
<circle cx="2375.8" cy="219.4" r="9.2"/>
<circle cx="2399.8" cy="251.7" r="9.2"/>
<circle cx="2295.9" cy="220.8" r="9.2"/>
<circle cx="2355.1" cy="244.2" r="9.2"/>
<circle cx="2332.3" cy="223.0" r="9.2"/>
<circle cx="2351.4" cy="243.6" r="9.2"/>
<circle cx="2340.7" cy="211.0" r="9.2"/>
<circle cx="2349.6" cy="226.5" r="9.2"/>
<circle cx="2359.2" cy="242.2" r="9.2"/>
<circle cx="2415.2" cy="243.8" r="9.2"/>
<circle cx="2324.3" cy="253.8" r="9.2"/>
<circle cx="2329.5" cy="237.0" r="9.2"/>
<circle cx="2411.6" cy="184.9" r="9.2"/>
<circle cx="2409.4" cy="201.4" r="9.2"/>
<circle cx="2409.3" cy="230.6" r="9.2"/>
<circle cx="2288.8" cy="215.8" r="9.2"/>
<circle cx="2376.9" cy="257.6" r="9.2"/>
<circle cx="2366.0" cy="201.4" r="9.2"/>
<circle cx="2297.8" cy="209.7" r="9.2"/>
<circle cx="2354.1" cy="252.3" r="9.2"/>
<circle cx="2298.4" cy="258.4" r="9.2"/>
<circle cx="2401.7" cy="253.4" r="9.2"/>
<circle cx="2287.4" cy="258.6" r="9.2"/>
<circle cx="2396.0" cy="245.2" r="9.2"/>
<circle cx="2362.1" cy="222.9" r="9.2"/>
<circle cx="2386.8" cy="260.1" r="9.2"/>
<circle cx="2292.3" cy="259.4" r="9.2"/>
<circle cx="2389.2" cy="197.8" r="9.2"/>
<circle cx="2339.0" cy="250.8" r="9.2"/>
<circle cx="2329.0" cy="257.2" r="9.2"/>
<circle cx="2388.4" cy="255.8" r="9.2"/>
<circle cx="2320.1" cy="225.4" r="9.2"/>
<circle cx="2329.4" cy="239.6" r="9.2"/>
<circle cx="2374.9" cy="237.0" r="9.2"/>
<circle cx="2403.5" cy="253.7" r="9.2"/>
<circle cx="2307.7" cy="245.5" r="9.2"/>
<circle cx="2348.7" cy="239.8" r="9.2"/>
<circle cx="2389.9" cy="248.2" r="9.2"/>
<circle cx="2372.2" cy="239.1" r="9.2"/>
<circle cx="2319.5" cy="235.1" r="9.2"/>
<circle cx="2403.0" cy="256.9" r="9.2"/>
<circle cx="2308.4" cy="257.4" r="9.2"/>
<circle cx="2328.8" cy="232.3" r="9.2"/>
<circle cx="2381.7" cy="233.4" r="9.2"/>
<circle cx="2356.7" cy="207.9" r="9.2"/>
<circle cx="2293.8" cy="258.4" r="9.2"/>
<circle cx="2313.8" cy="235.5" r="9.2"/>
<circle cx="2340.1" cy="228.3" r="9.2"/>
<circle cx="2331.9" cy="258.5" r="9.2"/>
<circle cx="2405.9" cy="227.4" r="9.2"/>
<circle cx="2301.6" cy="258.6" r="9.2"/>
<circle cx="2391.0" cy="254.4" r="9.2"/>
<circle cx="2390.1" cy="230.7" r="9.2"/>
<circle cx="2335.1" cy="250.2" r="9.2"/>
<circle cx="2383.1" cy="216.8" r="9.2"/>
<circle cx="2348.2" cy="258.2" r="9.2"/>
<circle cx="2351.4" cy="255.5" r="9.2"/>
<circle cx="2336.3" cy="192.3" r="9.2"/>
<circle cx="2304.1" cy="231.0" r="9.2"/>
<circle cx="2313.7" cy="199.1" r="9.2"/>
<circle cx="2407.0" cy="201.5" r="9.2"/>
<circle cx="2330.2" cy="243.7" r="9.2"/>
<circle cx="2380.7" cy="252.7" r="9.2"/>
<circle cx="2412.2" cy="254.2" r="9.2"/>
<circle cx="2375.5" cy="243.6" r="9.2"/>
<circle cx="2403.3" cy="248.5" r="9.2"/>
<circle cx="2345.7" cy="179.6" r="9.2"/>
<circle cx="2334.3" cy="241.1" r="9.2"/>
<circle cx="2410.6" cy="242.2" r="9.2"/>
<circle cx="2293.5" cy="248.2" r="9.2"/>
<circle cx="2291.5" cy="232.1" r="9.2"/>
<circle cx="2325.2" cy="253.5" r="9.2"/>
<circle cx="2355.1" cy="244.9" r="9.2"/>
<circle cx="2356.7" cy="208.8" r="9.2"/>
<circle cx="2355.1" cy="237.1" r="9.2"/>
<circle cx="2411.5" cy="239.8" r="9.2"/>
<circle cx="2294.1" cy="248.9" r="9.2"/>
<circle cx="2325.5" cy="255.4" r="9.2"/>
<circle cx="2352.0" cy="184.6" r="9.2"/>
<circle cx="2305.9" cy="239.5" r="9.2"/>
<circle cx="2324.4" cy="222.5" r="9.2"/>
<circle cx="2390.1" cy="223.9" r="9.2"/>
<circle cx="2365.5" cy="254.2" r="9.2"/>
<circle cx="2397.9" cy="239.3" r="9.2"/>
<circle cx="2412.1" cy="255.8" r="9.2"/>
<circle cx="2413.2" cy="204.4" r="9.2"/>
<circle cx="2338.0" cy="251.9" r="9.2"/>
<circle cx="2290.7" cy="249.8" r="9.2"/>
<circle cx="2383.3" cy="242.9" r="9.2"/>
<circle cx="2312.9" cy="237.1" r="9.2"/>
<circle cx="2392.4" cy="257.6" r="9.2"/>
<circle cx="2351.4" cy="239.0" r="9.2"/>
<circle cx="2309.4" cy="229.8" r="9.2"/>
<circle cx="2285.2" cy="257.3" r="9.2"/>
<circle cx="2319.0" cy="251.3" r="9.2"/>
<circle cx="2367.4" cy="234.7" r="9.2"/>
<circle cx="2368.0" cy="232.8" r="9.2"/>
<circle cx="2327.5" cy="217.4" r="9.2"/>
<circle cx="2362.0" cy="206.0" r="9.2"/>
<circle cx="2340.5" cy="224.5" r="9.2"/>
<circle cx="2328.7" cy="251.3" r="9.2"/>
<circle cx="2407.8" cy="252.3" r="9.2"/>
<circle cx="2396.0" cy="182.4" r="9.2"/>
<circle cx="2402.8" cy="239.7" r="9.2"/>
<circle cx="2415.6" cy="226.4" r="9.2"/>
<circle cx="2323.3" cy="234.9" r="9.2"/>
<circle cx="2317.0" cy="213.3" r="9.2"/>
<circle cx="2362.4" cy="215.9" r="9.2"/>
<circle cx="2324.0" cy="192.5" r="9.2"/>
<circle cx="2296.9" cy="248.7" r="9.2"/>
<circle cx="2359.4" cy="232.0" r="9.2"/>
<circle cx="2351.1" cy="224.9" r="9.2"/>
<circle cx="2335.2" cy="241.7" r="9.2"/>
<circle cx="2285.0" cy="234.0" r="9.2"/>
<circle cx="2361.7" cy="260.0" r="9.2"/>
<circle cx="2369.3" cy="246.4" r="9.2"/>
<circle cx="2351.2" cy="257.1" r="9.2"/>
<circle cx="2349.1" cy="204.5" r="9.2"/>
<circle cx="2323.5" cy="191.6" r="9.2"/>
<circle cx="2344.1" cy="208.7" r="9.2"/>
<circle cx="2316.2" cy="230.1" r="9.2"/>
<circle cx="2396.3" cy="252.9" r="9.2"/>
<circle cx="2405.3" cy="236.0" r="9.2"/>
<circle cx="2352.0" cy="222.4" r="9.2"/>
<circle cx="2411.4" cy="241.5" r="9.2"/>
<circle cx="2350.2" cy="232.9" r="9.2"/>
<circle cx="2398.1" cy="257.5" r="9.2"/>
<circle cx="2351.9" cy="248.4" r="9.2"/>
<circle cx="2313.2" cy="242.0" r="9.2"/>
<circle cx="2395.9" cy="229.9" r="9.2"/>
<circle cx="2403.5" cy="172.7" r="9.2"/>
<circle cx="2376.5" cy="245.0" r="9.2"/>
<circle cx="2391.7" cy="210.0" r="9.2"/>
<circle cx="2391.6" cy="233.0" r="9.2"/>
<circle cx="2326.1" cy="205.5" r="9.2"/>
<circle cx="2316.6" cy="254.2" r="9.2"/>
<circle cx="2353.1" cy="257.1" r="9.2"/>
</g></g>
</g>
<line x1="1743" y1="327.6" x2="2491" y2="327.6" stroke="#111" stroke-width="5" stroke-dasharray="5 17.6" stroke-dashoffset="-12"/>
<line x1="1743" y1="506.4" x2="2491" y2="506.4" stroke="#111" stroke-width="5" stroke-dasharray="5 17.6" stroke-dashoffset="-12"/>
<polyline fill="none" stroke="#000" stroke-width="9" points="1880.6,417.0 2116.4,440.7 2350.5,480.9"/>
<rect x="1867.6" y="404.0" width="26" height="26" fill="#000"/>
<rect x="2103.4" y="427.7" width="26" height="26" fill="#000"/>
<rect x="2337.5" y="467.9" width="26" height="26" fill="#000"/>
<text class="b" font-size="72" fill="#000" text-anchor="middle" x="1880.6" y="225">a</text>
<text class="b" font-size="72" fill="#000" text-anchor="middle" x="2116.4" y="232.5">b</text>
<text class="b" font-size="72" fill="#000" text-anchor="middle" x="2350.5" y="100">c</text>
<rect x="1740" y="12" width="751" height="729" fill="none" stroke="#000" stroke-width="5.5"/>
<line x1="1712" y1="59.4" x2="1740" y2="59.4" stroke="#000" stroke-width="5"/>
<text class="tkc" x="1696" y="77.7" text-anchor="end">8</text>
<line x1="1712" y1="238.2" x2="1740" y2="238.2" stroke="#000" stroke-width="5"/>
<text class="tkc" x="1696" y="256.5" text-anchor="end">4</text>
<line x1="1712" y1="417.0" x2="1740" y2="417.0" stroke="#000" stroke-width="5"/>
<text class="tkc" x="1696" y="435.3" text-anchor="end">0</text>
<line x1="1712" y1="595.8" x2="1740" y2="595.8" stroke="#000" stroke-width="5"/>
<text class="tkc" x="1696" y="614.1" text-anchor="end">−4</text>
<line x1="1880.6" y1="741" x2="1880.6" y2="771" stroke="#000" stroke-width="5"/>
<text class="b" font-size="61" fill="#000" text-anchor="end" transform="translate(1908,820) rotate(-45)">Bacteria</text>
<line x1="2116.4" y1="741" x2="2116.4" y2="771" stroke="#000" stroke-width="5"/>
<text class="b" font-size="61" fill="#000" text-anchor="end" transform="translate(2143,818) rotate(-45)">Fungi</text>
<line x1="2350.5" y1="741" x2="2350.5" y2="771" stroke="#000" stroke-width="5"/>
<text class="b" font-size="61" fill="#000" text-anchor="end" transform="translate(2379,820) rotate(-45)">Protist</text>
<text class="b" font-size="61" fill="#000" text-anchor="middle" transform="translate(1607,375.5) rotate(-90)">betaNTI</text>
<text class="b" font-size="56" fill="#000" x="1527" y="50">(c)</text>
</g>
<g>
<text class="b" font-size="56" fill="#000" x="13" y="1037">(d)</text>
<rect x="51" y="1056" width="609" height="89" fill="#d9d9d9" stroke="#787878" stroke-width="3.5"/>
<text class="b" font-size="59" fill="#000" text-anchor="middle" x="355.5" y="1122">Bacteria</text>
<rect x="679.5" y="1056" width="608.0" height="89" fill="#d9d9d9" stroke="#787878" stroke-width="3.5"/>
<text class="b" font-size="59" fill="#000" text-anchor="middle" x="983.5" y="1122">Fungi</text>
<rect x="1309" y="1056" width="607" height="89" fill="#d9d9d9" stroke="#787878" stroke-width="3.5"/>
<text class="b" font-size="59" fill="#000" text-anchor="middle" x="1612.5" y="1122">Protist</text>
<path d="M355.5,1449 L355.5,1206.0 A243,243 0 0 1 357.0,1206.0 Z" fill="#80B1D3" stroke="#111" stroke-width="3" stroke-linejoin="round"/>
<path d="M355.5,1449 L357.0,1206.0 A243,243 0 1 1 259.0,1226.0 Z" fill="#FB8072" stroke="#111" stroke-width="3" stroke-linejoin="round"/>
<path d="M355.5,1449 L259.0,1226.0 A243,243 0 0 1 260.4,1225.4 Z" fill="#BEBADA" stroke="#111" stroke-width="3" stroke-linejoin="round"/>
<path d="M355.5,1449 L260.4,1225.4 A243,243 0 0 1 314.5,1209.5 Z" fill="#FFFFB3" stroke="#111" stroke-width="3" stroke-linejoin="round"/>
<path d="M355.5,1449 L314.5,1209.5 A243,243 0 0 1 355.5,1206.0 Z" fill="#8DD3C7" stroke="#111" stroke-width="3" stroke-linejoin="round"/>
<path d="M983.5,1449 L983.5,1206.0 A243,243 0 1 1 876.6,1230.8 Z" fill="#80B1D3" stroke="#111" stroke-width="3" stroke-linejoin="round"/>
<path d="M983.5,1449 L876.6,1230.8 A243,243 0 0 1 878.2,1230.0 Z" fill="#FB8072" stroke="#111" stroke-width="3" stroke-linejoin="round"/>
<path d="M983.5,1449 L878.2,1230.0 A243,243 0 0 1 880.0,1229.1 Z" fill="#BEBADA" stroke="#111" stroke-width="3" stroke-linejoin="round"/>
<path d="M983.5,1449 L880.0,1229.1 A243,243 0 0 1 908.4,1217.9 Z" fill="#FFFFB3" stroke="#111" stroke-width="3" stroke-linejoin="round"/>
<path d="M983.5,1449 L908.4,1217.9 A243,243 0 0 1 983.5,1206.0 Z" fill="#8DD3C7" stroke="#111" stroke-width="3" stroke-linejoin="round"/>
<path d="M1613,1449 L1613.0,1206.0 A243,243 0 0 1 1840.0,1362.4 Z" fill="#80B1D3" stroke="#111" stroke-width="3" stroke-linejoin="round"/>
<path d="M1613,1449 L1840.0,1362.4 A243,243 0 0 1 1841.4,1366.0 Z" fill="#FB8072" stroke="#111" stroke-width="3" stroke-linejoin="round"/>
<path d="M1613,1449 L1841.4,1366.0 A243,243 0 0 1 1546.7,1682.8 Z" fill="#BEBADA" stroke="#111" stroke-width="3" stroke-linejoin="round"/>
<path d="M1613,1449 L1546.7,1682.8 A243,243 0 0 1 1493.3,1660.5 Z" fill="#FFFFB3" stroke="#111" stroke-width="3" stroke-linejoin="round"/>
<path d="M1613,1449 L1493.3,1660.5 A243,243 0 0 1 1613.0,1206.0 Z" fill="#8DD3C7" stroke="#111" stroke-width="3" stroke-linejoin="round"/>
<line x1="336.0" y1="1306.0" x2="345.2" y2="1327.9" stroke="#222" stroke-width="3"/>
<line x1="316.0" y1="1354.0" x2="321.2" y2="1332.4" stroke="#222" stroke-width="3"/>
<line x1="376.0" y1="1349.0" x2="356.9" y2="1329.5" stroke="#222" stroke-width="3"/>
<line x1="398.0" y1="1546.0" x2="381.8" y2="1566.1" stroke="#222" stroke-width="3"/>
<line x1="940.0" y1="1308.0" x2="938.8" y2="1336.0" stroke="#222" stroke-width="3"/>
<line x1="977.0" y1="1295.0" x2="964.5" y2="1327.0" stroke="#222" stroke-width="3"/>
<line x1="925.0" y1="1362.0" x2="931.3" y2="1339.3" stroke="#222" stroke-width="3"/>
<line x1="830.0" y1="1485.0" x2="930.5" y2="1339.7" stroke="#222" stroke-width="3"/>
<line x1="1030.0" y1="1546.0" x2="1012.9" y2="1565.4" stroke="#222" stroke-width="3"/>
<line x1="1661.5" y1="1327.0" x2="1678.9" y2="1346.9" stroke="#222" stroke-width="3"/>
<line x1="1729.5" y1="1383.0" x2="1726.9" y2="1406.6" stroke="#222" stroke-width="3"/>
<line x1="1477.0" y1="1438.0" x2="1493.5" y2="1420.0" stroke="#222" stroke-width="3"/>
<line x1="1719.0" y1="1511.0" x2="1704.0" y2="1529.8" stroke="#222" stroke-width="3"/>
<line x1="1561.0" y1="1608.0" x2="1566.2" y2="1566.1" stroke="#222" stroke-width="3"/>
<rect x="253" y="1243" width="99" height="63" rx="5" ry="5" fill="#fff" stroke="#444" stroke-width="2"/>
<text class="lab" text-anchor="middle" x="302.5" y="1292.0">3%</text>
<rect x="217" y="1354" width="100" height="63" rx="5" ry="5" fill="#fff" stroke="#444" stroke-width="2"/>
<text class="lab" text-anchor="middle" x="267.0" y="1403.0">4%</text>
<rect x="353" y="1349" width="98.5" height="64.5" rx="5" ry="5" fill="#fff" stroke="#444" stroke-width="2"/>
<text class="lab" text-anchor="middle" x="402.25" y="1398.75">0%</text>
<rect x="369.5" y="1482.5" width="125.5" height="64.0" rx="5" ry="5" fill="#fff" stroke="#444" stroke-width="2"/>
<text class="lab" text-anchor="middle" x="432.25" y="1532.0">93%</text>
<rect x="845" y="1245.5" width="98" height="63.0" rx="5" ry="5" fill="#fff" stroke="#444" stroke-width="2"/>
<text class="lab" text-anchor="middle" x="894.0" y="1294.5">2%</text>
<rect x="977" y="1245.5" width="99" height="61.5" rx="5" ry="5" fill="#fff" stroke="#444" stroke-width="2"/>
<text class="lab" text-anchor="middle" x="1026.5" y="1293.75">5%</text>
<rect x="827" y="1361" width="99" height="63.5" rx="5" ry="5" fill="#fff" stroke="#444" stroke-width="2"/>
<text class="lab" text-anchor="middle" x="876.5" y="1410.25">0%</text>
<rect x="730.5" y="1457" width="99.5" height="64.5" rx="5" ry="5" fill="#fff" stroke="#444" stroke-width="2"/>
<text class="lab" text-anchor="middle" x="780.25" y="1506.75">0%</text>
<rect x="1001.5" y="1482.5" width="125.5" height="64.0" rx="5" ry="5" fill="#fff" stroke="#444" stroke-width="2"/>
<text class="lab" text-anchor="middle" x="1064.25" y="1532.0">93%</text>
<rect x="1564" y="1264" width="126.5" height="63.5" rx="5" ry="5" fill="#fff" stroke="#444" stroke-width="2"/>
<text class="lab" text-anchor="middle" x="1627.25" y="1313.25">19%</text>
<rect x="1729" y="1321.5" width="98.5" height="62.5" rx="5" ry="5" fill="#fff" stroke="#444" stroke-width="2"/>
<text class="lab" text-anchor="middle" x="1778.25" y="1370.25">0%</text>
<rect x="1379" y="1438" width="126" height="64" rx="5" ry="5" fill="#fff" stroke="#444" stroke-width="2"/>
<text class="lab" text-anchor="middle" x="1442.0" y="1487.5">42%</text>
<rect x="1691" y="1449" width="126" height="62" rx="5" ry="5" fill="#fff" stroke="#444" stroke-width="2"/>
<text class="lab" text-anchor="middle" x="1754.0" y="1497.5">35%</text>
<rect x="1461.5" y="1582" width="99.5" height="63" rx="5" ry="5" fill="#fff" stroke="#444" stroke-width="2"/>
<text class="lab" text-anchor="middle" x="1511.25" y="1631.0">4%</text>
<text class="b" font-size="43" fill="#000" x="1981" y="1265">Ecological Process</text>
<rect x="1984" y="1296.0" width="68" height="70.3" fill="#8DD3C7" stroke="#1a1a1a" stroke-width="4"/>
<text class="leg" x="2077" y="1343.0">Homogeneous selection</text>
<rect x="1984" y="1370.3" width="68" height="70.3" fill="#FFFFB3" stroke="#1a1a1a" stroke-width="4"/>
<text class="leg" x="2077" y="1417.3">Heterogeneous selection</text>
<rect x="1984" y="1444.6" width="68" height="70.3" fill="#BEBADA" stroke="#1a1a1a" stroke-width="4"/>
<text class="leg" x="2077" y="1491.6">Homogenizing dispersal</text>
<rect x="1984" y="1518.9" width="68" height="70.3" fill="#FB8072" stroke="#1a1a1a" stroke-width="4"/>
<text class="leg" x="2077" y="1565.9">Dispersal limited</text>
<rect x="1984" y="1593.2" width="68" height="70.3" fill="#80B1D3" stroke="#1a1a1a" stroke-width="4"/>
<text class="leg" x="2077" y="1640.2">Drift</text>
</g>
</svg></body></html>
